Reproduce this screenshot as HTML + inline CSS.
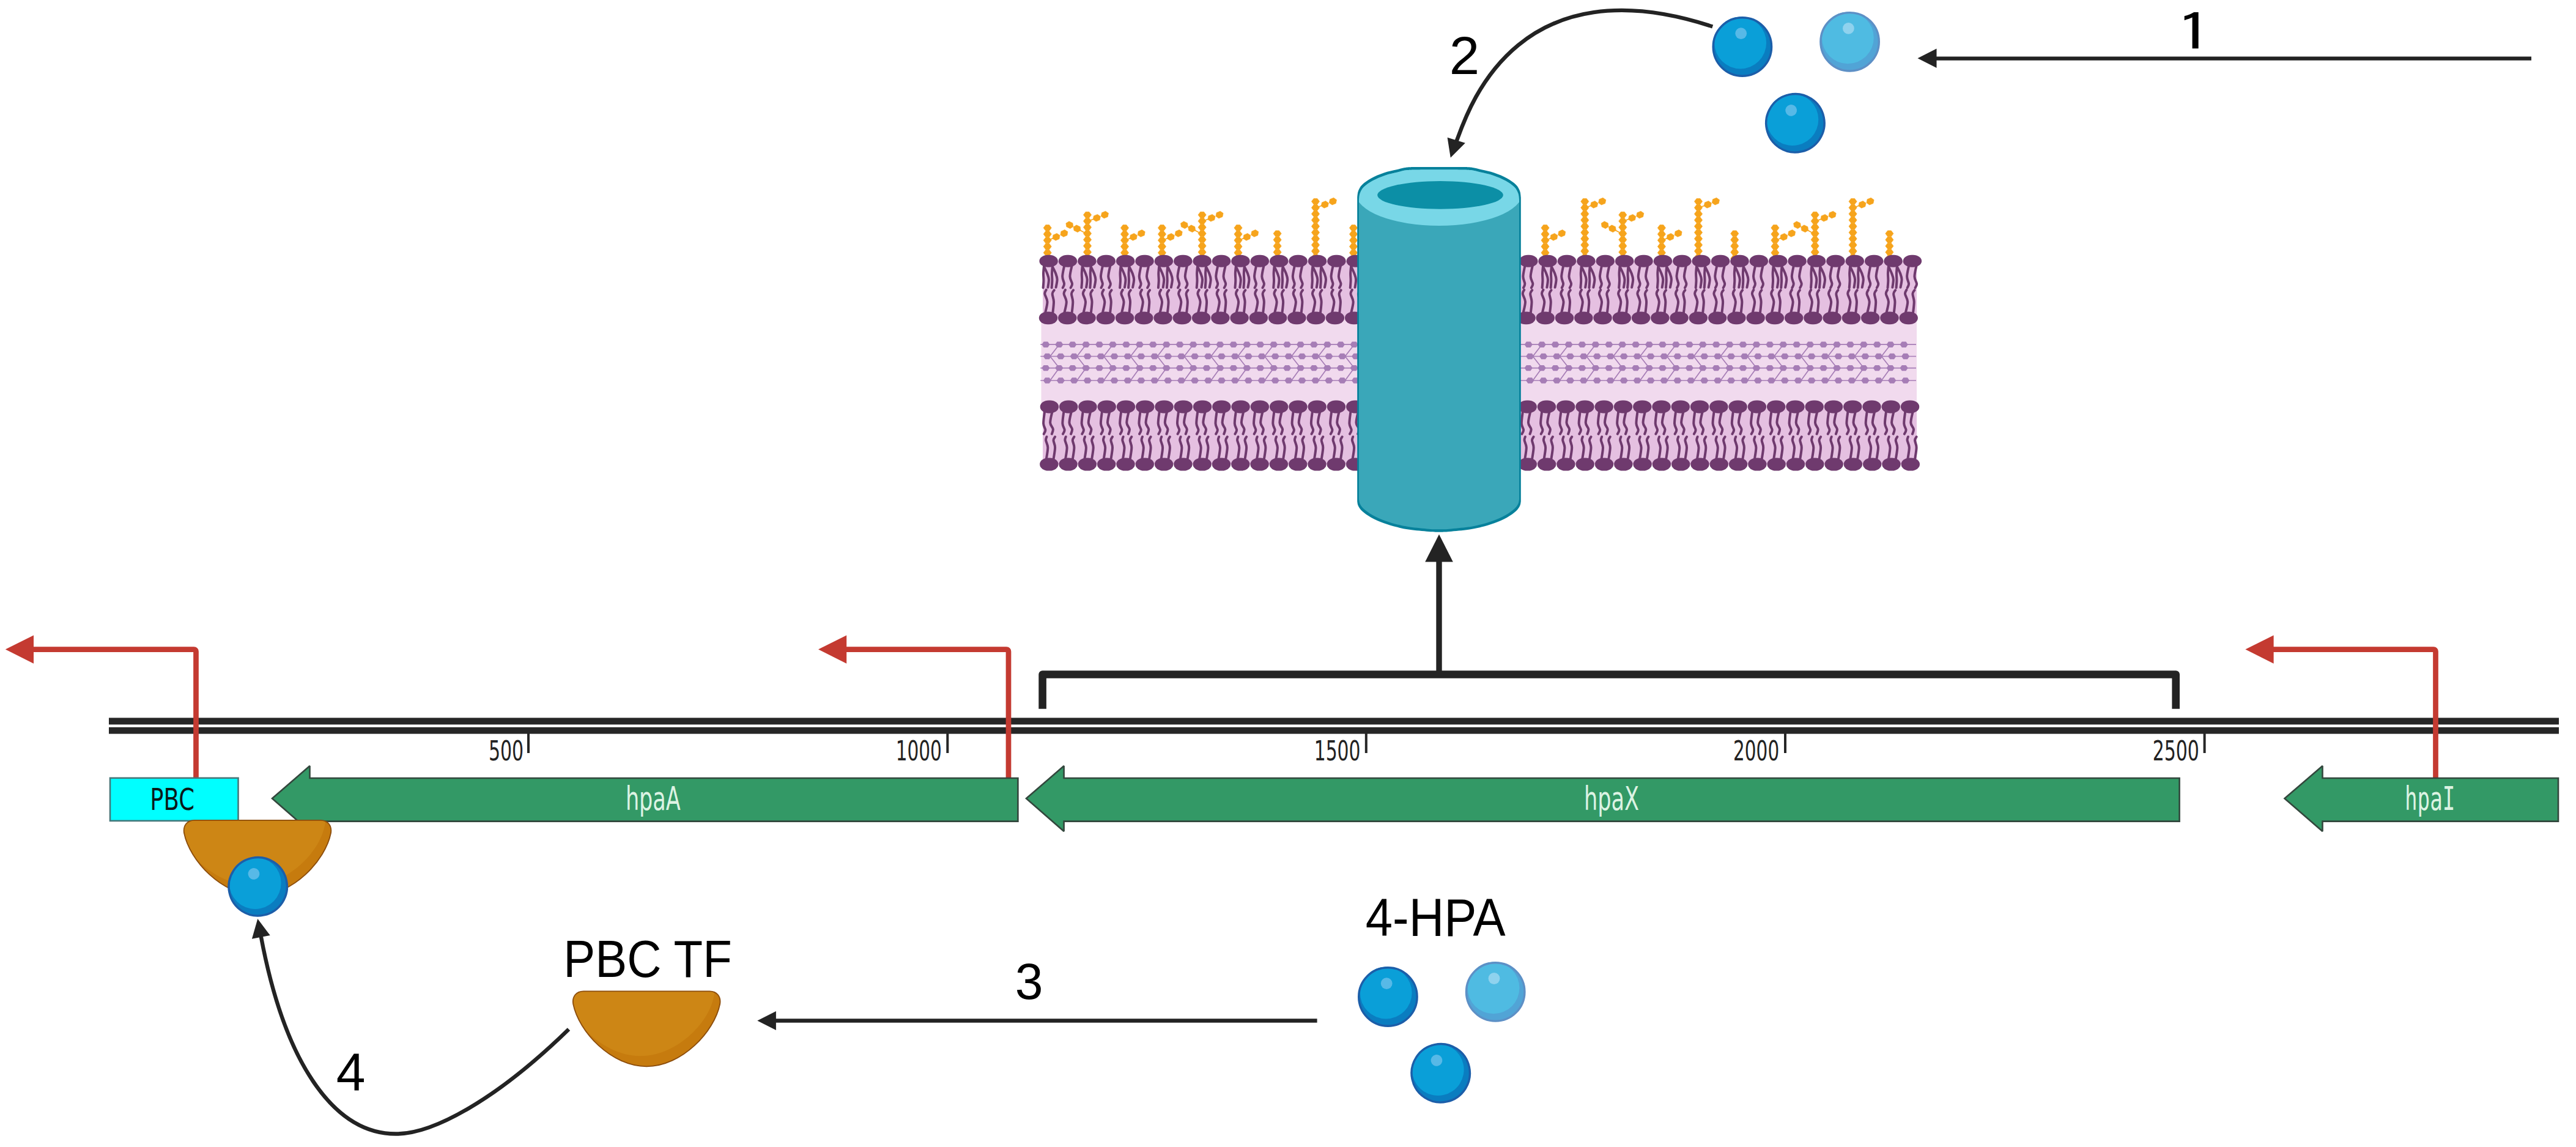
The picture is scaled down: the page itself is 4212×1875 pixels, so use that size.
<!DOCTYPE html>
<html lang="en"><head><meta charset="utf-8"><title>hpa operon regulation by 4-HPA</title>
<style>html,body{margin:0;padding:0;background:#fff}svg{display:block}text{font-family:"Liberation Sans",sans-serif}</style></head>
<body>
<svg width="4212" height="1875" viewBox="0 0 4212 1875">
<rect width="4212" height="1875" fill="#fff"/>
<g id="membrane">
<rect x="1705.0" y="426.8" width="1429.0" height="92.99999999999994" fill="#e5c0e1"/>
<rect x="1702.5" y="519.8" width="1431.5" height="149.10000000000002" fill="#f1daee"/>
<rect x="1705.0" y="668.9" width="1429.0" height="90.10000000000002" fill="#e5c0e1"/>
<path d="M1701.3,563.2H3133M1701.3,582.5H3133M1701.3,601.6H3133M1701.3,622.0H3133M1731.9,563.2L1717,582.5L1731.9,601.6L1717,622.0M1775.75,563.2L1760.85,582.5L1775.75,601.6L1760.85,622.0M1819.6,563.2L1804.7,582.5L1819.6,601.6L1804.7,622.0M1863.45,563.2L1848.55,582.5L1863.45,601.6L1848.55,622.0M1907.3,563.2L1892.4,582.5L1907.3,601.6L1892.4,622.0M1951.15,563.2L1936.25,582.5L1951.15,601.6L1936.25,622.0M1995,563.2L1980.1,582.5L1995,601.6L1980.1,622.0M2038.85,563.2L2023.95,582.5L2038.85,601.6L2023.95,622.0M2082.7,563.2L2067.8,582.5L2082.7,601.6L2067.8,622.0M2126.55,563.2L2111.65,582.5L2126.55,601.6L2111.65,622.0M2170.4,563.2L2155.5,582.5L2170.4,601.6L2155.5,622.0M2214.25,563.2L2199.35,582.5L2214.25,601.6L2199.35,622.0M2258.1,563.2L2243.2,582.5L2258.1,601.6L2243.2,622.0M2301.95,563.2L2287.05,582.5L2301.95,601.6L2287.05,622.0M2345.8,563.2L2330.9,582.5L2345.8,601.6L2330.9,622.0M2389.65,563.2L2374.75,582.5L2389.65,601.6L2374.75,622.0M2433.5,563.2L2418.6,582.5L2433.5,601.6L2418.6,622.0M2477.35,563.2L2462.45,582.5L2477.35,601.6L2462.45,622.0M2521.2,563.2L2506.3,582.5L2521.2,601.6L2506.3,622.0M2565.05,563.2L2550.15,582.5L2565.05,601.6L2550.15,622.0M2608.9,563.2L2594,582.5L2608.9,601.6L2594,622.0M2652.75,563.2L2637.85,582.5L2652.75,601.6L2637.85,622.0M2696.6,563.2L2681.7,582.5L2696.6,601.6L2681.7,622.0M2740.45,563.2L2725.55,582.5L2740.45,601.6L2725.55,622.0M2784.3,563.2L2769.4,582.5L2784.3,601.6L2769.4,622.0M2828.15,563.2L2813.25,582.5L2828.15,601.6L2813.25,622.0M2872,563.2L2857.1,582.5L2872,601.6L2857.1,622.0M2915.85,563.2L2900.95,582.5L2915.85,601.6L2900.95,622.0M2959.7,563.2L2944.8,582.5L2959.7,601.6L2944.8,622.0M3003.55,563.2L2988.65,582.5L3003.55,601.6L2988.65,622.0M3047.4,563.2L3032.5,582.5L3047.4,601.6L3032.5,622.0M3091.25,563.2L3076.35,582.5L3091.25,601.6L3076.35,622.0" fill="none" stroke="#a67db6" stroke-width="1.7"/>
<path d="M1703.25,563.2L1706.58,558.5L1713.23,558.5L1716.55,563.2L1713.23,567.9L1706.58,567.9ZM1725.17,563.2L1728.5,558.5L1735.15,558.5L1738.48,563.2L1735.15,567.9L1728.5,567.9ZM1747.1,563.2L1750.42,558.5L1757.08,558.5L1760.4,563.2L1757.08,567.9L1750.42,567.9ZM1769.02,563.2L1772.35,558.5L1779,558.5L1782.33,563.2L1779,567.9L1772.35,567.9ZM1790.95,563.2L1794.27,558.5L1800.92,558.5L1804.25,563.2L1800.92,567.9L1794.27,567.9ZM1812.87,563.2L1816.2,558.5L1822.85,558.5L1826.17,563.2L1822.85,567.9L1816.2,567.9ZM1834.8,563.2L1838.12,558.5L1844.77,558.5L1848.1,563.2L1844.77,567.9L1838.12,567.9ZM1856.72,563.2L1860.05,558.5L1866.7,558.5L1870.02,563.2L1866.7,567.9L1860.05,567.9ZM1878.65,563.2L1881.97,558.5L1888.62,558.5L1891.95,563.2L1888.62,567.9L1881.97,567.9ZM1900.57,563.2L1903.9,558.5L1910.55,558.5L1913.87,563.2L1910.55,567.9L1903.9,567.9ZM1922.5,563.2L1925.82,558.5L1932.47,558.5L1935.8,563.2L1932.47,567.9L1925.82,567.9ZM1944.42,563.2L1947.75,558.5L1954.4,558.5L1957.72,563.2L1954.4,567.9L1947.75,567.9ZM1966.35,563.2L1969.67,558.5L1976.32,558.5L1979.65,563.2L1976.32,567.9L1969.67,567.9ZM1988.27,563.2L1991.6,558.5L1998.25,558.5L2001.57,563.2L1998.25,567.9L1991.6,567.9ZM2010.2,563.2L2013.52,558.5L2020.17,558.5L2023.5,563.2L2020.17,567.9L2013.52,567.9ZM2032.12,563.2L2035.45,558.5L2042.1,558.5L2045.42,563.2L2042.1,567.9L2035.45,567.9ZM2054.05,563.2L2057.37,558.5L2064.02,558.5L2067.35,563.2L2064.02,567.9L2057.37,567.9ZM2075.97,563.2L2079.3,558.5L2085.95,558.5L2089.27,563.2L2085.95,567.9L2079.3,567.9ZM2097.9,563.2L2101.22,558.5L2107.87,558.5L2111.2,563.2L2107.87,567.9L2101.22,567.9ZM2119.82,563.2L2123.15,558.5L2129.8,558.5L2133.12,563.2L2129.8,567.9L2123.15,567.9ZM2141.75,563.2L2145.08,558.5L2151.72,558.5L2155.05,563.2L2151.72,567.9L2145.08,567.9ZM2163.68,563.2L2167,558.5L2173.65,558.5L2176.98,563.2L2173.65,567.9L2167,567.9ZM2185.6,563.2L2188.93,558.5L2195.58,558.5L2198.9,563.2L2195.58,567.9L2188.93,567.9ZM2207.53,563.2L2210.85,558.5L2217.5,558.5L2220.83,563.2L2217.5,567.9L2210.85,567.9ZM2229.45,563.2L2232.78,558.5L2239.43,558.5L2242.75,563.2L2239.43,567.9L2232.78,567.9ZM2251.38,563.2L2254.7,558.5L2261.35,558.5L2264.68,563.2L2261.35,567.9L2254.7,567.9ZM2273.3,563.2L2276.63,558.5L2283.28,558.5L2286.6,563.2L2283.28,567.9L2276.63,567.9ZM2295.23,563.2L2298.55,558.5L2305.2,558.5L2308.53,563.2L2305.2,567.9L2298.55,567.9ZM2317.15,563.2L2320.48,558.5L2327.13,558.5L2330.45,563.2L2327.13,567.9L2320.48,567.9ZM2339.08,563.2L2342.4,558.5L2349.05,558.5L2352.38,563.2L2349.05,567.9L2342.4,567.9ZM2361,563.2L2364.33,558.5L2370.98,558.5L2374.3,563.2L2370.98,567.9L2364.33,567.9ZM2382.93,563.2L2386.25,558.5L2392.9,558.5L2396.23,563.2L2392.9,567.9L2386.25,567.9ZM2404.85,563.2L2408.18,558.5L2414.83,558.5L2418.15,563.2L2414.83,567.9L2408.18,567.9ZM2426.78,563.2L2430.1,558.5L2436.75,558.5L2440.08,563.2L2436.75,567.9L2430.1,567.9ZM2448.7,563.2L2452.03,558.5L2458.68,558.5L2462,563.2L2458.68,567.9L2452.03,567.9ZM2470.63,563.2L2473.95,558.5L2480.6,558.5L2483.93,563.2L2480.6,567.9L2473.95,567.9ZM2492.55,563.2L2495.88,558.5L2502.53,558.5L2505.85,563.2L2502.53,567.9L2495.88,567.9ZM2514.48,563.2L2517.8,558.5L2524.45,558.5L2527.78,563.2L2524.45,567.9L2517.8,567.9ZM2536.4,563.2L2539.73,558.5L2546.38,558.5L2549.7,563.2L2546.38,567.9L2539.73,567.9ZM2558.33,563.2L2561.65,558.5L2568.3,558.5L2571.63,563.2L2568.3,567.9L2561.65,567.9ZM2580.25,563.2L2583.58,558.5L2590.23,558.5L2593.55,563.2L2590.23,567.9L2583.58,567.9ZM2602.18,563.2L2605.5,558.5L2612.15,558.5L2615.48,563.2L2612.15,567.9L2605.5,567.9ZM2624.1,563.2L2627.43,558.5L2634.08,558.5L2637.4,563.2L2634.08,567.9L2627.43,567.9ZM2646.03,563.2L2649.35,558.5L2656,558.5L2659.33,563.2L2656,567.9L2649.35,567.9ZM2667.95,563.2L2671.28,558.5L2677.93,558.5L2681.25,563.2L2677.93,567.9L2671.28,567.9ZM2689.88,563.2L2693.2,558.5L2699.85,558.5L2703.18,563.2L2699.85,567.9L2693.2,567.9ZM2711.8,563.2L2715.13,558.5L2721.78,558.5L2725.1,563.2L2721.78,567.9L2715.13,567.9ZM2733.73,563.2L2737.05,558.5L2743.7,558.5L2747.03,563.2L2743.7,567.9L2737.05,567.9ZM2755.65,563.2L2758.98,558.5L2765.63,558.5L2768.95,563.2L2765.63,567.9L2758.98,567.9ZM2777.58,563.2L2780.9,558.5L2787.55,558.5L2790.88,563.2L2787.55,567.9L2780.9,567.9ZM2799.5,563.2L2802.83,558.5L2809.48,558.5L2812.8,563.2L2809.48,567.9L2802.83,567.9ZM2821.43,563.2L2824.75,558.5L2831.4,558.5L2834.73,563.2L2831.4,567.9L2824.75,567.9ZM2843.35,563.2L2846.68,558.5L2853.33,558.5L2856.65,563.2L2853.33,567.9L2846.68,567.9ZM2865.28,563.2L2868.6,558.5L2875.25,558.5L2878.58,563.2L2875.25,567.9L2868.6,567.9ZM2887.2,563.2L2890.53,558.5L2897.18,558.5L2900.5,563.2L2897.18,567.9L2890.53,567.9ZM2909.13,563.2L2912.45,558.5L2919.1,558.5L2922.43,563.2L2919.1,567.9L2912.45,567.9ZM2931.05,563.2L2934.38,558.5L2941.03,558.5L2944.35,563.2L2941.03,567.9L2934.38,567.9ZM2952.98,563.2L2956.3,558.5L2962.95,558.5L2966.28,563.2L2962.95,567.9L2956.3,567.9ZM2974.9,563.2L2978.23,558.5L2984.88,558.5L2988.2,563.2L2984.88,567.9L2978.23,567.9ZM2996.83,563.2L3000.15,558.5L3006.8,558.5L3010.13,563.2L3006.8,567.9L3000.15,567.9ZM3018.75,563.2L3022.08,558.5L3028.73,558.5L3032.05,563.2L3028.73,567.9L3022.08,567.9ZM3040.68,563.2L3044,558.5L3050.65,558.5L3053.98,563.2L3050.65,567.9L3044,567.9ZM3062.6,563.2L3065.93,558.5L3072.58,558.5L3075.9,563.2L3072.58,567.9L3065.93,567.9ZM3084.53,563.2L3087.85,558.5L3094.5,558.5L3097.83,563.2L3094.5,567.9L3087.85,567.9ZM3106.45,563.2L3109.78,558.5L3116.43,558.5L3119.75,563.2L3116.43,567.9L3109.78,567.9ZM1705.75,582.5L1709.08,577.8L1715.73,577.8L1719.05,582.5L1715.73,587.2L1709.08,587.2ZM1727.67,582.5L1731,577.8L1737.65,577.8L1740.98,582.5L1737.65,587.2L1731,587.2ZM1749.6,582.5L1752.92,577.8L1759.58,577.8L1762.9,582.5L1759.58,587.2L1752.92,587.2ZM1771.52,582.5L1774.85,577.8L1781.5,577.8L1784.83,582.5L1781.5,587.2L1774.85,587.2ZM1793.45,582.5L1796.77,577.8L1803.42,577.8L1806.75,582.5L1803.42,587.2L1796.77,587.2ZM1815.37,582.5L1818.7,577.8L1825.35,577.8L1828.67,582.5L1825.35,587.2L1818.7,587.2ZM1837.3,582.5L1840.62,577.8L1847.27,577.8L1850.6,582.5L1847.27,587.2L1840.62,587.2ZM1859.22,582.5L1862.55,577.8L1869.2,577.8L1872.52,582.5L1869.2,587.2L1862.55,587.2ZM1881.15,582.5L1884.47,577.8L1891.12,577.8L1894.45,582.5L1891.12,587.2L1884.47,587.2ZM1903.07,582.5L1906.4,577.8L1913.05,577.8L1916.37,582.5L1913.05,587.2L1906.4,587.2ZM1925,582.5L1928.32,577.8L1934.97,577.8L1938.3,582.5L1934.97,587.2L1928.32,587.2ZM1946.92,582.5L1950.25,577.8L1956.9,577.8L1960.22,582.5L1956.9,587.2L1950.25,587.2ZM1968.85,582.5L1972.17,577.8L1978.82,577.8L1982.15,582.5L1978.82,587.2L1972.17,587.2ZM1990.77,582.5L1994.1,577.8L2000.75,577.8L2004.07,582.5L2000.75,587.2L1994.1,587.2ZM2012.7,582.5L2016.02,577.8L2022.67,577.8L2026,582.5L2022.67,587.2L2016.02,587.2ZM2034.62,582.5L2037.95,577.8L2044.6,577.8L2047.92,582.5L2044.6,587.2L2037.95,587.2ZM2056.55,582.5L2059.87,577.8L2066.52,577.8L2069.85,582.5L2066.52,587.2L2059.87,587.2ZM2078.47,582.5L2081.8,577.8L2088.45,577.8L2091.77,582.5L2088.45,587.2L2081.8,587.2ZM2100.4,582.5L2103.72,577.8L2110.37,577.8L2113.7,582.5L2110.37,587.2L2103.72,587.2ZM2122.32,582.5L2125.65,577.8L2132.3,577.8L2135.62,582.5L2132.3,587.2L2125.65,587.2ZM2144.25,582.5L2147.58,577.8L2154.22,577.8L2157.55,582.5L2154.22,587.2L2147.58,587.2ZM2166.18,582.5L2169.5,577.8L2176.15,577.8L2179.48,582.5L2176.15,587.2L2169.5,587.2ZM2188.1,582.5L2191.43,577.8L2198.08,577.8L2201.4,582.5L2198.08,587.2L2191.43,587.2ZM2210.03,582.5L2213.35,577.8L2220,577.8L2223.33,582.5L2220,587.2L2213.35,587.2ZM2231.95,582.5L2235.28,577.8L2241.93,577.8L2245.25,582.5L2241.93,587.2L2235.28,587.2ZM2253.88,582.5L2257.2,577.8L2263.85,577.8L2267.18,582.5L2263.85,587.2L2257.2,587.2ZM2275.8,582.5L2279.13,577.8L2285.78,577.8L2289.1,582.5L2285.78,587.2L2279.13,587.2ZM2297.73,582.5L2301.05,577.8L2307.7,577.8L2311.03,582.5L2307.7,587.2L2301.05,587.2ZM2319.65,582.5L2322.98,577.8L2329.63,577.8L2332.95,582.5L2329.63,587.2L2322.98,587.2ZM2341.58,582.5L2344.9,577.8L2351.55,577.8L2354.88,582.5L2351.55,587.2L2344.9,587.2ZM2363.5,582.5L2366.83,577.8L2373.48,577.8L2376.8,582.5L2373.48,587.2L2366.83,587.2ZM2385.43,582.5L2388.75,577.8L2395.4,577.8L2398.73,582.5L2395.4,587.2L2388.75,587.2ZM2407.35,582.5L2410.68,577.8L2417.33,577.8L2420.65,582.5L2417.33,587.2L2410.68,587.2ZM2429.28,582.5L2432.6,577.8L2439.25,577.8L2442.58,582.5L2439.25,587.2L2432.6,587.2ZM2451.2,582.5L2454.53,577.8L2461.18,577.8L2464.5,582.5L2461.18,587.2L2454.53,587.2ZM2473.13,582.5L2476.45,577.8L2483.1,577.8L2486.43,582.5L2483.1,587.2L2476.45,587.2ZM2495.05,582.5L2498.38,577.8L2505.03,577.8L2508.35,582.5L2505.03,587.2L2498.38,587.2ZM2516.98,582.5L2520.3,577.8L2526.95,577.8L2530.28,582.5L2526.95,587.2L2520.3,587.2ZM2538.9,582.5L2542.23,577.8L2548.88,577.8L2552.2,582.5L2548.88,587.2L2542.23,587.2ZM2560.83,582.5L2564.15,577.8L2570.8,577.8L2574.13,582.5L2570.8,587.2L2564.15,587.2ZM2582.75,582.5L2586.08,577.8L2592.73,577.8L2596.05,582.5L2592.73,587.2L2586.08,587.2ZM2604.68,582.5L2608,577.8L2614.65,577.8L2617.98,582.5L2614.65,587.2L2608,587.2ZM2626.6,582.5L2629.93,577.8L2636.58,577.8L2639.9,582.5L2636.58,587.2L2629.93,587.2ZM2648.53,582.5L2651.85,577.8L2658.5,577.8L2661.83,582.5L2658.5,587.2L2651.85,587.2ZM2670.45,582.5L2673.78,577.8L2680.43,577.8L2683.75,582.5L2680.43,587.2L2673.78,587.2ZM2692.38,582.5L2695.7,577.8L2702.35,577.8L2705.68,582.5L2702.35,587.2L2695.7,587.2ZM2714.3,582.5L2717.63,577.8L2724.28,577.8L2727.6,582.5L2724.28,587.2L2717.63,587.2ZM2736.23,582.5L2739.55,577.8L2746.2,577.8L2749.53,582.5L2746.2,587.2L2739.55,587.2ZM2758.15,582.5L2761.48,577.8L2768.13,577.8L2771.45,582.5L2768.13,587.2L2761.48,587.2ZM2780.08,582.5L2783.4,577.8L2790.05,577.8L2793.38,582.5L2790.05,587.2L2783.4,587.2ZM2802,582.5L2805.33,577.8L2811.98,577.8L2815.3,582.5L2811.98,587.2L2805.33,587.2ZM2823.93,582.5L2827.25,577.8L2833.9,577.8L2837.23,582.5L2833.9,587.2L2827.25,587.2ZM2845.85,582.5L2849.18,577.8L2855.83,577.8L2859.15,582.5L2855.83,587.2L2849.18,587.2ZM2867.78,582.5L2871.1,577.8L2877.75,577.8L2881.08,582.5L2877.75,587.2L2871.1,587.2ZM2889.7,582.5L2893.03,577.8L2899.68,577.8L2903,582.5L2899.68,587.2L2893.03,587.2ZM2911.63,582.5L2914.95,577.8L2921.6,577.8L2924.93,582.5L2921.6,587.2L2914.95,587.2ZM2933.55,582.5L2936.88,577.8L2943.53,577.8L2946.85,582.5L2943.53,587.2L2936.88,587.2ZM2955.48,582.5L2958.8,577.8L2965.45,577.8L2968.78,582.5L2965.45,587.2L2958.8,587.2ZM2977.4,582.5L2980.73,577.8L2987.38,577.8L2990.7,582.5L2987.38,587.2L2980.73,587.2ZM2999.33,582.5L3002.65,577.8L3009.3,577.8L3012.63,582.5L3009.3,587.2L3002.65,587.2ZM3021.25,582.5L3024.58,577.8L3031.23,577.8L3034.55,582.5L3031.23,587.2L3024.58,587.2ZM3043.18,582.5L3046.5,577.8L3053.15,577.8L3056.48,582.5L3053.15,587.2L3046.5,587.2ZM3065.1,582.5L3068.43,577.8L3075.08,577.8L3078.4,582.5L3075.08,587.2L3068.43,587.2ZM3087.03,582.5L3090.35,577.8L3097,577.8L3100.33,582.5L3097,587.2L3090.35,587.2ZM3108.95,582.5L3112.28,577.8L3118.93,577.8L3122.25,582.5L3118.93,587.2L3112.28,587.2ZM1703.25,601.6L1706.58,596.9L1713.23,596.9L1716.55,601.6L1713.23,606.3L1706.58,606.3ZM1725.17,601.6L1728.5,596.9L1735.15,596.9L1738.48,601.6L1735.15,606.3L1728.5,606.3ZM1747.1,601.6L1750.42,596.9L1757.08,596.9L1760.4,601.6L1757.08,606.3L1750.42,606.3ZM1769.02,601.6L1772.35,596.9L1779,596.9L1782.33,601.6L1779,606.3L1772.35,606.3ZM1790.95,601.6L1794.27,596.9L1800.92,596.9L1804.25,601.6L1800.92,606.3L1794.27,606.3ZM1812.87,601.6L1816.2,596.9L1822.85,596.9L1826.17,601.6L1822.85,606.3L1816.2,606.3ZM1834.8,601.6L1838.12,596.9L1844.77,596.9L1848.1,601.6L1844.77,606.3L1838.12,606.3ZM1856.72,601.6L1860.05,596.9L1866.7,596.9L1870.02,601.6L1866.7,606.3L1860.05,606.3ZM1878.65,601.6L1881.97,596.9L1888.62,596.9L1891.95,601.6L1888.62,606.3L1881.97,606.3ZM1900.57,601.6L1903.9,596.9L1910.55,596.9L1913.87,601.6L1910.55,606.3L1903.9,606.3ZM1922.5,601.6L1925.82,596.9L1932.47,596.9L1935.8,601.6L1932.47,606.3L1925.82,606.3ZM1944.42,601.6L1947.75,596.9L1954.4,596.9L1957.72,601.6L1954.4,606.3L1947.75,606.3ZM1966.35,601.6L1969.67,596.9L1976.32,596.9L1979.65,601.6L1976.32,606.3L1969.67,606.3ZM1988.27,601.6L1991.6,596.9L1998.25,596.9L2001.57,601.6L1998.25,606.3L1991.6,606.3ZM2010.2,601.6L2013.52,596.9L2020.17,596.9L2023.5,601.6L2020.17,606.3L2013.52,606.3ZM2032.12,601.6L2035.45,596.9L2042.1,596.9L2045.42,601.6L2042.1,606.3L2035.45,606.3ZM2054.05,601.6L2057.37,596.9L2064.02,596.9L2067.35,601.6L2064.02,606.3L2057.37,606.3ZM2075.97,601.6L2079.3,596.9L2085.95,596.9L2089.27,601.6L2085.95,606.3L2079.3,606.3ZM2097.9,601.6L2101.22,596.9L2107.87,596.9L2111.2,601.6L2107.87,606.3L2101.22,606.3ZM2119.82,601.6L2123.15,596.9L2129.8,596.9L2133.12,601.6L2129.8,606.3L2123.15,606.3ZM2141.75,601.6L2145.08,596.9L2151.72,596.9L2155.05,601.6L2151.72,606.3L2145.08,606.3ZM2163.68,601.6L2167,596.9L2173.65,596.9L2176.98,601.6L2173.65,606.3L2167,606.3ZM2185.6,601.6L2188.93,596.9L2195.58,596.9L2198.9,601.6L2195.58,606.3L2188.93,606.3ZM2207.53,601.6L2210.85,596.9L2217.5,596.9L2220.83,601.6L2217.5,606.3L2210.85,606.3ZM2229.45,601.6L2232.78,596.9L2239.43,596.9L2242.75,601.6L2239.43,606.3L2232.78,606.3ZM2251.38,601.6L2254.7,596.9L2261.35,596.9L2264.68,601.6L2261.35,606.3L2254.7,606.3ZM2273.3,601.6L2276.63,596.9L2283.28,596.9L2286.6,601.6L2283.28,606.3L2276.63,606.3ZM2295.23,601.6L2298.55,596.9L2305.2,596.9L2308.53,601.6L2305.2,606.3L2298.55,606.3ZM2317.15,601.6L2320.48,596.9L2327.13,596.9L2330.45,601.6L2327.13,606.3L2320.48,606.3ZM2339.08,601.6L2342.4,596.9L2349.05,596.9L2352.38,601.6L2349.05,606.3L2342.4,606.3ZM2361,601.6L2364.33,596.9L2370.98,596.9L2374.3,601.6L2370.98,606.3L2364.33,606.3ZM2382.93,601.6L2386.25,596.9L2392.9,596.9L2396.23,601.6L2392.9,606.3L2386.25,606.3ZM2404.85,601.6L2408.18,596.9L2414.83,596.9L2418.15,601.6L2414.83,606.3L2408.18,606.3ZM2426.78,601.6L2430.1,596.9L2436.75,596.9L2440.08,601.6L2436.75,606.3L2430.1,606.3ZM2448.7,601.6L2452.03,596.9L2458.68,596.9L2462,601.6L2458.68,606.3L2452.03,606.3ZM2470.63,601.6L2473.95,596.9L2480.6,596.9L2483.93,601.6L2480.6,606.3L2473.95,606.3ZM2492.55,601.6L2495.88,596.9L2502.53,596.9L2505.85,601.6L2502.53,606.3L2495.88,606.3ZM2514.48,601.6L2517.8,596.9L2524.45,596.9L2527.78,601.6L2524.45,606.3L2517.8,606.3ZM2536.4,601.6L2539.73,596.9L2546.38,596.9L2549.7,601.6L2546.38,606.3L2539.73,606.3ZM2558.33,601.6L2561.65,596.9L2568.3,596.9L2571.63,601.6L2568.3,606.3L2561.65,606.3ZM2580.25,601.6L2583.58,596.9L2590.23,596.9L2593.55,601.6L2590.23,606.3L2583.58,606.3ZM2602.18,601.6L2605.5,596.9L2612.15,596.9L2615.48,601.6L2612.15,606.3L2605.5,606.3ZM2624.1,601.6L2627.43,596.9L2634.08,596.9L2637.4,601.6L2634.08,606.3L2627.43,606.3ZM2646.03,601.6L2649.35,596.9L2656,596.9L2659.33,601.6L2656,606.3L2649.35,606.3ZM2667.95,601.6L2671.28,596.9L2677.93,596.9L2681.25,601.6L2677.93,606.3L2671.28,606.3ZM2689.88,601.6L2693.2,596.9L2699.85,596.9L2703.18,601.6L2699.85,606.3L2693.2,606.3ZM2711.8,601.6L2715.13,596.9L2721.78,596.9L2725.1,601.6L2721.78,606.3L2715.13,606.3ZM2733.73,601.6L2737.05,596.9L2743.7,596.9L2747.03,601.6L2743.7,606.3L2737.05,606.3ZM2755.65,601.6L2758.98,596.9L2765.63,596.9L2768.95,601.6L2765.63,606.3L2758.98,606.3ZM2777.58,601.6L2780.9,596.9L2787.55,596.9L2790.88,601.6L2787.55,606.3L2780.9,606.3ZM2799.5,601.6L2802.83,596.9L2809.48,596.9L2812.8,601.6L2809.48,606.3L2802.83,606.3ZM2821.43,601.6L2824.75,596.9L2831.4,596.9L2834.73,601.6L2831.4,606.3L2824.75,606.3ZM2843.35,601.6L2846.68,596.9L2853.33,596.9L2856.65,601.6L2853.33,606.3L2846.68,606.3ZM2865.28,601.6L2868.6,596.9L2875.25,596.9L2878.58,601.6L2875.25,606.3L2868.6,606.3ZM2887.2,601.6L2890.53,596.9L2897.18,596.9L2900.5,601.6L2897.18,606.3L2890.53,606.3ZM2909.13,601.6L2912.45,596.9L2919.1,596.9L2922.43,601.6L2919.1,606.3L2912.45,606.3ZM2931.05,601.6L2934.38,596.9L2941.03,596.9L2944.35,601.6L2941.03,606.3L2934.38,606.3ZM2952.98,601.6L2956.3,596.9L2962.95,596.9L2966.28,601.6L2962.95,606.3L2956.3,606.3ZM2974.9,601.6L2978.23,596.9L2984.88,596.9L2988.2,601.6L2984.88,606.3L2978.23,606.3ZM2996.83,601.6L3000.15,596.9L3006.8,596.9L3010.13,601.6L3006.8,606.3L3000.15,606.3ZM3018.75,601.6L3022.08,596.9L3028.73,596.9L3032.05,601.6L3028.73,606.3L3022.08,606.3ZM3040.68,601.6L3044,596.9L3050.65,596.9L3053.98,601.6L3050.65,606.3L3044,606.3ZM3062.6,601.6L3065.93,596.9L3072.58,596.9L3075.9,601.6L3072.58,606.3L3065.93,606.3ZM3084.53,601.6L3087.85,596.9L3094.5,596.9L3097.83,601.6L3094.5,606.3L3087.85,606.3ZM3106.45,601.6L3109.78,596.9L3116.43,596.9L3119.75,601.6L3116.43,606.3L3109.78,606.3ZM1705.75,622L1709.08,617.3L1715.73,617.3L1719.05,622L1715.73,626.7L1709.08,626.7ZM1727.67,622L1731,617.3L1737.65,617.3L1740.98,622L1737.65,626.7L1731,626.7ZM1749.6,622L1752.92,617.3L1759.58,617.3L1762.9,622L1759.58,626.7L1752.92,626.7ZM1771.52,622L1774.85,617.3L1781.5,617.3L1784.83,622L1781.5,626.7L1774.85,626.7ZM1793.45,622L1796.77,617.3L1803.42,617.3L1806.75,622L1803.42,626.7L1796.77,626.7ZM1815.37,622L1818.7,617.3L1825.35,617.3L1828.67,622L1825.35,626.7L1818.7,626.7ZM1837.3,622L1840.62,617.3L1847.27,617.3L1850.6,622L1847.27,626.7L1840.62,626.7ZM1859.22,622L1862.55,617.3L1869.2,617.3L1872.52,622L1869.2,626.7L1862.55,626.7ZM1881.15,622L1884.47,617.3L1891.12,617.3L1894.45,622L1891.12,626.7L1884.47,626.7ZM1903.07,622L1906.4,617.3L1913.05,617.3L1916.37,622L1913.05,626.7L1906.4,626.7ZM1925,622L1928.32,617.3L1934.97,617.3L1938.3,622L1934.97,626.7L1928.32,626.7ZM1946.92,622L1950.25,617.3L1956.9,617.3L1960.22,622L1956.9,626.7L1950.25,626.7ZM1968.85,622L1972.17,617.3L1978.82,617.3L1982.15,622L1978.82,626.7L1972.17,626.7ZM1990.77,622L1994.1,617.3L2000.75,617.3L2004.07,622L2000.75,626.7L1994.1,626.7ZM2012.7,622L2016.02,617.3L2022.67,617.3L2026,622L2022.67,626.7L2016.02,626.7ZM2034.62,622L2037.95,617.3L2044.6,617.3L2047.92,622L2044.6,626.7L2037.95,626.7ZM2056.55,622L2059.87,617.3L2066.52,617.3L2069.85,622L2066.52,626.7L2059.87,626.7ZM2078.47,622L2081.8,617.3L2088.45,617.3L2091.77,622L2088.45,626.7L2081.8,626.7ZM2100.4,622L2103.72,617.3L2110.37,617.3L2113.7,622L2110.37,626.7L2103.72,626.7ZM2122.32,622L2125.65,617.3L2132.3,617.3L2135.62,622L2132.3,626.7L2125.65,626.7ZM2144.25,622L2147.58,617.3L2154.22,617.3L2157.55,622L2154.22,626.7L2147.58,626.7ZM2166.18,622L2169.5,617.3L2176.15,617.3L2179.48,622L2176.15,626.7L2169.5,626.7ZM2188.1,622L2191.43,617.3L2198.08,617.3L2201.4,622L2198.08,626.7L2191.43,626.7ZM2210.03,622L2213.35,617.3L2220,617.3L2223.33,622L2220,626.7L2213.35,626.7ZM2231.95,622L2235.28,617.3L2241.93,617.3L2245.25,622L2241.93,626.7L2235.28,626.7ZM2253.88,622L2257.2,617.3L2263.85,617.3L2267.18,622L2263.85,626.7L2257.2,626.7ZM2275.8,622L2279.13,617.3L2285.78,617.3L2289.1,622L2285.78,626.7L2279.13,626.7ZM2297.73,622L2301.05,617.3L2307.7,617.3L2311.03,622L2307.7,626.7L2301.05,626.7ZM2319.65,622L2322.98,617.3L2329.63,617.3L2332.95,622L2329.63,626.7L2322.98,626.7ZM2341.58,622L2344.9,617.3L2351.55,617.3L2354.88,622L2351.55,626.7L2344.9,626.7ZM2363.5,622L2366.83,617.3L2373.48,617.3L2376.8,622L2373.48,626.7L2366.83,626.7ZM2385.43,622L2388.75,617.3L2395.4,617.3L2398.73,622L2395.4,626.7L2388.75,626.7ZM2407.35,622L2410.68,617.3L2417.33,617.3L2420.65,622L2417.33,626.7L2410.68,626.7ZM2429.28,622L2432.6,617.3L2439.25,617.3L2442.58,622L2439.25,626.7L2432.6,626.7ZM2451.2,622L2454.53,617.3L2461.18,617.3L2464.5,622L2461.18,626.7L2454.53,626.7ZM2473.13,622L2476.45,617.3L2483.1,617.3L2486.43,622L2483.1,626.7L2476.45,626.7ZM2495.05,622L2498.38,617.3L2505.03,617.3L2508.35,622L2505.03,626.7L2498.38,626.7ZM2516.98,622L2520.3,617.3L2526.95,617.3L2530.28,622L2526.95,626.7L2520.3,626.7ZM2538.9,622L2542.23,617.3L2548.88,617.3L2552.2,622L2548.88,626.7L2542.23,626.7ZM2560.83,622L2564.15,617.3L2570.8,617.3L2574.13,622L2570.8,626.7L2564.15,626.7ZM2582.75,622L2586.08,617.3L2592.73,617.3L2596.05,622L2592.73,626.7L2586.08,626.7ZM2604.68,622L2608,617.3L2614.65,617.3L2617.98,622L2614.65,626.7L2608,626.7ZM2626.6,622L2629.93,617.3L2636.58,617.3L2639.9,622L2636.58,626.7L2629.93,626.7ZM2648.53,622L2651.85,617.3L2658.5,617.3L2661.83,622L2658.5,626.7L2651.85,626.7ZM2670.45,622L2673.78,617.3L2680.43,617.3L2683.75,622L2680.43,626.7L2673.78,626.7ZM2692.38,622L2695.7,617.3L2702.35,617.3L2705.68,622L2702.35,626.7L2695.7,626.7ZM2714.3,622L2717.63,617.3L2724.28,617.3L2727.6,622L2724.28,626.7L2717.63,626.7ZM2736.23,622L2739.55,617.3L2746.2,617.3L2749.53,622L2746.2,626.7L2739.55,626.7ZM2758.15,622L2761.48,617.3L2768.13,617.3L2771.45,622L2768.13,626.7L2761.48,626.7ZM2780.08,622L2783.4,617.3L2790.05,617.3L2793.38,622L2790.05,626.7L2783.4,626.7ZM2802,622L2805.33,617.3L2811.98,617.3L2815.3,622L2811.98,626.7L2805.33,626.7ZM2823.93,622L2827.25,617.3L2833.9,617.3L2837.23,622L2833.9,626.7L2827.25,626.7ZM2845.85,622L2849.18,617.3L2855.83,617.3L2859.15,622L2855.83,626.7L2849.18,626.7ZM2867.78,622L2871.1,617.3L2877.75,617.3L2881.08,622L2877.75,626.7L2871.1,626.7ZM2889.7,622L2893.03,617.3L2899.68,617.3L2903,622L2899.68,626.7L2893.03,626.7ZM2911.63,622L2914.95,617.3L2921.6,617.3L2924.93,622L2921.6,626.7L2914.95,626.7ZM2933.55,622L2936.88,617.3L2943.53,617.3L2946.85,622L2943.53,626.7L2936.88,626.7ZM2955.48,622L2958.8,617.3L2965.45,617.3L2968.78,622L2965.45,626.7L2958.8,626.7ZM2977.4,622L2980.73,617.3L2987.38,617.3L2990.7,622L2987.38,626.7L2980.73,626.7ZM2999.33,622L3002.65,617.3L3009.3,617.3L3012.63,622L3009.3,626.7L3002.65,626.7ZM3021.25,622L3024.58,617.3L3031.23,617.3L3034.55,622L3031.23,626.7L3024.58,626.7ZM3043.18,622L3046.5,617.3L3053.15,617.3L3056.48,622L3053.15,626.7L3046.5,626.7ZM3065.1,622L3068.43,617.3L3075.08,617.3L3078.4,622L3075.08,626.7L3068.43,626.7ZM3087.03,622L3090.35,617.3L3097,617.3L3100.33,622L3097,626.7L3090.35,626.7ZM3108.95,622L3112.28,617.3L3118.93,617.3L3122.25,622L3118.93,626.7L3112.28,626.7Z" fill="#a67db6"/>
<path d="M1707,434.8C1706.83,436.8 1706.1,442.8 1706,446.8C1705.9,450.8 1706.47,454.88 1706.4,458.8C1706.33,462.72 1705.73,468.38 1705.6,470.3M1707.6,436.8C1708.35,438.47 1710.88,443.47 1712.1,446.8C1713.32,450.13 1714.68,452.97 1714.9,456.8C1715.12,460.63 1713.65,467.63 1713.4,469.8M1720.9,434.8C1720.75,436.8 1720.08,442.8 1720,446.8C1719.92,450.8 1720.47,454.88 1720.4,458.8C1720.33,462.72 1719.73,468.38 1719.6,470.3M1721.4,436.8C1722.18,438.47 1724.9,443.47 1726.1,446.8C1727.3,450.13 1728.52,452.97 1728.6,456.8C1728.68,460.63 1726.93,467.63 1726.6,469.8M1740.08,434.8C1739.6,437.68 1737.18,447.25 1737.18,452.1C1737.18,456.95 1739.98,460.85 1740.08,463.9C1740.18,466.95 1738.17,469.32 1737.78,470.4M1752.48,434.8C1751.98,437.68 1749.38,447.25 1749.48,452.1C1749.58,456.95 1752.88,460.85 1753.08,463.9C1753.28,466.95 1751.09,469.32 1750.68,470.4M1769.77,434.8C1769.6,436.8 1768.87,442.8 1768.77,446.8C1768.67,450.8 1769.24,454.88 1769.17,458.8C1769.1,462.72 1768.5,468.38 1768.37,470.3M1770.37,436.8C1771.12,438.47 1773.65,443.47 1774.87,446.8C1776.09,450.13 1777.45,452.97 1777.67,456.8C1777.89,460.63 1776.42,467.63 1776.17,469.8M1783.67,434.8C1783.52,436.8 1782.85,442.8 1782.77,446.8C1782.69,450.8 1783.24,454.88 1783.17,458.8C1783.1,462.72 1782.5,468.38 1782.37,470.3M1784.17,436.8C1784.95,438.47 1787.67,443.47 1788.87,446.8C1790.07,450.13 1791.29,452.97 1791.37,456.8C1791.45,460.63 1789.7,467.63 1789.37,469.8M1802.85,434.8C1802.37,437.68 1799.95,447.25 1799.95,452.1C1799.95,456.95 1802.75,460.85 1802.85,463.9C1802.95,466.95 1800.94,469.32 1800.55,470.4M1815.25,434.8C1814.75,437.68 1812.15,447.25 1812.25,452.1C1812.35,456.95 1815.65,460.85 1815.85,463.9C1816.05,466.95 1813.86,469.32 1813.45,470.4M1832.54,434.8C1832.37,436.8 1831.64,442.8 1831.54,446.8C1831.44,450.8 1832.01,454.88 1831.94,458.8C1831.87,462.72 1831.27,468.38 1831.14,470.3M1833.14,436.8C1833.89,438.47 1836.42,443.47 1837.64,446.8C1838.86,450.13 1840.22,452.97 1840.44,456.8C1840.66,460.63 1839.19,467.63 1838.94,469.8M1846.44,434.8C1846.29,436.8 1845.62,442.8 1845.54,446.8C1845.46,450.8 1846.01,454.88 1845.94,458.8C1845.87,462.72 1845.27,468.38 1845.14,470.3M1846.94,436.8C1847.72,438.47 1850.44,443.47 1851.64,446.8C1852.84,450.13 1854.06,452.97 1854.14,456.8C1854.22,460.63 1852.47,467.63 1852.14,469.8M1865.62,434.8C1865.14,437.68 1862.72,447.25 1862.72,452.1C1862.72,456.95 1865.52,460.85 1865.62,463.9C1865.72,466.95 1863.71,469.32 1863.32,470.4M1878.02,434.8C1877.52,437.68 1874.92,447.25 1875.02,452.1C1875.12,456.95 1878.42,460.85 1878.62,463.9C1878.82,466.95 1876.62,469.32 1876.22,470.4M1895.31,434.8C1895.14,436.8 1894.41,442.8 1894.31,446.8C1894.21,450.8 1894.78,454.88 1894.71,458.8C1894.64,462.72 1894.04,468.38 1893.91,470.3M1895.91,436.8C1896.66,438.47 1899.19,443.47 1900.41,446.8C1901.63,450.13 1902.99,452.97 1903.21,456.8C1903.43,460.63 1901.96,467.63 1901.71,469.8M1909.21,434.8C1909.06,436.8 1908.39,442.8 1908.31,446.8C1908.23,450.8 1908.78,454.88 1908.71,458.8C1908.64,462.72 1908.04,468.38 1907.91,470.3M1909.71,436.8C1910.49,438.47 1913.21,443.47 1914.41,446.8C1915.61,450.13 1916.83,452.97 1916.91,456.8C1916.99,460.63 1915.24,467.63 1914.91,469.8M1928.39,434.8C1927.91,437.68 1925.49,447.25 1925.49,452.1C1925.49,456.95 1928.29,460.85 1928.39,463.9C1928.49,466.95 1926.48,469.32 1926.09,470.4M1940.79,434.8C1940.29,437.68 1937.69,447.25 1937.79,452.1C1937.89,456.95 1941.19,460.85 1941.39,463.9C1941.59,466.95 1939.39,469.32 1938.99,470.4M1958.08,434.8C1957.91,436.8 1957.18,442.8 1957.08,446.8C1956.98,450.8 1957.55,454.88 1957.48,458.8C1957.41,462.72 1956.81,468.38 1956.68,470.3M1958.68,436.8C1959.43,438.47 1961.96,443.47 1963.18,446.8C1964.4,450.13 1965.76,452.97 1965.98,456.8C1966.2,460.63 1964.73,467.63 1964.48,469.8M1971.98,434.8C1971.83,436.8 1971.16,442.8 1971.08,446.8C1971,450.8 1971.55,454.88 1971.48,458.8C1971.41,462.72 1970.81,468.38 1970.68,470.3M1972.48,436.8C1973.26,438.47 1975.98,443.47 1977.18,446.8C1978.38,450.13 1979.6,452.97 1979.68,456.8C1979.76,460.63 1978.01,467.63 1977.68,469.8M1991.16,434.8C1990.68,437.68 1988.27,447.25 1988.27,452.1C1988.27,456.95 1991.07,460.85 1991.16,463.9C1991.26,466.95 1989.25,469.32 1988.87,470.4M2003.57,434.8C2003.07,437.68 2000.47,447.25 2000.57,452.1C2000.66,456.95 2003.96,460.85 2004.16,463.9C2004.37,466.95 2002.16,469.32 2001.77,470.4M2020.85,434.8C2020.68,436.8 2019.95,442.8 2019.85,446.8C2019.75,450.8 2020.32,454.88 2020.25,458.8C2020.18,462.72 2019.58,468.38 2019.45,470.3M2021.45,436.8C2022.2,438.47 2024.73,443.47 2025.95,446.8C2027.17,450.13 2028.53,452.97 2028.75,456.8C2028.97,460.63 2027.5,467.63 2027.25,469.8M2034.75,434.8C2034.6,436.8 2033.93,442.8 2033.85,446.8C2033.77,450.8 2034.32,454.88 2034.25,458.8C2034.18,462.72 2033.58,468.38 2033.45,470.3M2035.25,436.8C2036.03,438.47 2038.75,443.47 2039.95,446.8C2041.15,450.13 2042.37,452.97 2042.45,456.8C2042.53,460.63 2040.78,467.63 2040.45,469.8M2053.93,434.8C2053.45,437.68 2051.03,447.25 2051.03,452.1C2051.03,456.95 2053.84,460.85 2053.93,463.9C2054.03,466.95 2052.02,469.32 2051.64,470.4M2066.34,434.8C2065.84,437.68 2063.24,447.25 2063.34,452.1C2063.43,456.95 2066.74,460.85 2066.93,463.9C2067.13,466.95 2064.93,469.32 2064.53,470.4M2083.62,434.8C2083.45,436.8 2082.72,442.8 2082.62,446.8C2082.52,450.8 2083.09,454.88 2083.02,458.8C2082.95,462.72 2082.35,468.38 2082.22,470.3M2084.22,436.8C2084.97,438.47 2087.5,443.47 2088.72,446.8C2089.94,450.13 2091.3,452.97 2091.52,456.8C2091.74,460.63 2090.27,467.63 2090.02,469.8M2097.52,434.8C2097.37,436.8 2096.7,442.8 2096.62,446.8C2096.54,450.8 2097.09,454.88 2097.02,458.8C2096.95,462.72 2096.35,468.38 2096.22,470.3M2098.02,436.8C2098.8,438.47 2101.52,443.47 2102.72,446.8C2103.92,450.13 2105.14,452.97 2105.22,456.8C2105.3,460.63 2103.55,467.63 2103.22,469.8M2116.7,434.8C2116.22,437.68 2113.8,447.25 2113.8,452.1C2113.8,456.95 2116.61,460.85 2116.7,463.9C2116.8,466.95 2114.79,469.32 2114.41,470.4M2129.11,434.8C2128.61,437.68 2126.01,447.25 2126.11,452.1C2126.2,456.95 2129.51,460.85 2129.7,463.9C2129.9,466.95 2127.7,469.32 2127.3,470.4M2146.39,434.8C2146.22,436.8 2145.49,442.8 2145.39,446.8C2145.29,450.8 2145.86,454.88 2145.79,458.8C2145.72,462.72 2145.12,468.38 2144.99,470.3M2146.99,436.8C2147.74,438.47 2150.27,443.47 2151.49,446.8C2152.71,450.13 2154.07,452.97 2154.29,456.8C2154.51,460.63 2153.04,467.63 2152.79,469.8M2160.29,434.8C2160.14,436.8 2159.47,442.8 2159.39,446.8C2159.31,450.8 2159.86,454.88 2159.79,458.8C2159.72,462.72 2159.12,468.38 2158.99,470.3M2160.79,436.8C2161.57,438.47 2164.29,443.47 2165.49,446.8C2166.69,450.13 2167.91,452.97 2167.99,456.8C2168.07,460.63 2166.32,467.63 2165.99,469.8M2179.47,434.8C2178.99,437.68 2176.57,447.25 2176.57,452.1C2176.57,456.95 2179.38,460.85 2179.47,463.9C2179.57,466.95 2177.56,469.32 2177.18,470.4M2191.88,434.8C2191.38,437.68 2188.78,447.25 2188.88,452.1C2188.97,456.95 2192.28,460.85 2192.47,463.9C2192.67,466.95 2190.47,469.32 2190.07,470.4M2209.16,434.8C2208.99,436.8 2208.26,442.8 2208.16,446.8C2208.06,450.8 2208.63,454.88 2208.56,458.8C2208.49,462.72 2207.89,468.38 2207.76,470.3M2209.76,436.8C2210.51,438.47 2213.04,443.47 2214.26,446.8C2215.48,450.13 2216.84,452.97 2217.06,456.8C2217.28,460.63 2215.81,467.63 2215.56,469.8M2223.06,434.8C2222.91,436.8 2222.24,442.8 2222.16,446.8C2222.08,450.8 2222.63,454.88 2222.56,458.8C2222.49,462.72 2221.89,468.38 2221.76,470.3M2223.56,436.8C2224.34,438.47 2227.06,443.47 2228.26,446.8C2229.46,450.13 2230.68,452.97 2230.76,456.8C2230.84,460.63 2229.09,467.63 2228.76,469.8M2493.32,434.8C2492.84,437.68 2490.42,447.25 2490.42,452.1C2490.42,456.95 2493.22,460.85 2493.32,463.9C2493.42,466.95 2491.41,469.32 2491.03,470.4M2505.72,434.8C2505.22,437.68 2502.62,447.25 2502.72,452.1C2502.82,456.95 2506.12,460.85 2506.32,463.9C2506.52,466.95 2504.32,469.32 2503.92,470.4M2523.01,434.8C2522.84,436.8 2522.11,442.8 2522.01,446.8C2521.91,450.8 2522.48,454.88 2522.41,458.8C2522.34,462.72 2521.74,468.38 2521.61,470.3M2523.61,436.8C2524.36,438.47 2526.89,443.47 2528.11,446.8C2529.33,450.13 2530.69,452.97 2530.91,456.8C2531.13,460.63 2529.66,467.63 2529.41,469.8M2536.91,434.8C2536.76,436.8 2536.09,442.8 2536.01,446.8C2535.93,450.8 2536.48,454.88 2536.41,458.8C2536.34,462.72 2535.74,468.38 2535.61,470.3M2537.41,436.8C2538.19,438.47 2540.91,443.47 2542.11,446.8C2543.31,450.13 2544.53,452.97 2544.61,456.8C2544.69,460.63 2542.94,467.63 2542.61,469.8M2556.09,434.8C2555.61,437.68 2553.19,447.25 2553.19,452.1C2553.19,456.95 2555.99,460.85 2556.09,463.9C2556.19,466.95 2554.18,469.32 2553.8,470.4M2568.49,434.8C2567.99,437.68 2565.39,447.25 2565.49,452.1C2565.59,456.95 2568.89,460.85 2569.09,463.9C2569.29,466.95 2567.09,469.32 2566.69,470.4M2585.78,434.8C2585.61,436.8 2584.88,442.8 2584.78,446.8C2584.68,450.8 2585.25,454.88 2585.18,458.8C2585.11,462.72 2584.51,468.38 2584.38,470.3M2586.38,436.8C2587.13,438.47 2589.66,443.47 2590.88,446.8C2592.1,450.13 2593.46,452.97 2593.68,456.8C2593.9,460.63 2592.43,467.63 2592.18,469.8M2599.68,434.8C2599.53,436.8 2598.86,442.8 2598.78,446.8C2598.7,450.8 2599.25,454.88 2599.18,458.8C2599.11,462.72 2598.51,468.38 2598.38,470.3M2600.18,436.8C2600.96,438.47 2603.68,443.47 2604.88,446.8C2606.08,450.13 2607.3,452.97 2607.38,456.8C2607.46,460.63 2605.71,467.63 2605.38,469.8M2618.86,434.8C2618.38,437.68 2615.96,447.25 2615.96,452.1C2615.96,456.95 2618.76,460.85 2618.86,463.9C2618.96,466.95 2616.95,469.32 2616.57,470.4M2631.26,434.8C2630.76,437.68 2628.16,447.25 2628.26,452.1C2628.36,456.95 2631.66,460.85 2631.86,463.9C2632.06,466.95 2629.86,469.32 2629.46,470.4M2648.55,434.8C2648.38,436.8 2647.65,442.8 2647.55,446.8C2647.45,450.8 2648.02,454.88 2647.95,458.8C2647.88,462.72 2647.28,468.38 2647.15,470.3M2649.15,436.8C2649.9,438.47 2652.43,443.47 2653.65,446.8C2654.87,450.13 2656.23,452.97 2656.45,456.8C2656.67,460.63 2655.2,467.63 2654.95,469.8M2662.45,434.8C2662.3,436.8 2661.63,442.8 2661.55,446.8C2661.47,450.8 2662.02,454.88 2661.95,458.8C2661.88,462.72 2661.28,468.38 2661.15,470.3M2662.95,436.8C2663.73,438.47 2666.45,443.47 2667.65,446.8C2668.85,450.13 2670.07,452.97 2670.15,456.8C2670.23,460.63 2668.48,467.63 2668.15,469.8M2681.63,434.8C2681.15,437.68 2678.73,447.25 2678.73,452.1C2678.73,456.95 2681.53,460.85 2681.63,463.9C2681.73,466.95 2679.72,469.32 2679.34,470.4M2694.03,434.8C2693.53,437.68 2690.93,447.25 2691.03,452.1C2691.13,456.95 2694.43,460.85 2694.63,463.9C2694.83,466.95 2692.63,469.32 2692.23,470.4M2711.32,434.8C2711.15,436.8 2710.42,442.8 2710.32,446.8C2710.22,450.8 2710.79,454.88 2710.72,458.8C2710.65,462.72 2710.05,468.38 2709.92,470.3M2711.92,436.8C2712.67,438.47 2715.2,443.47 2716.42,446.8C2717.64,450.13 2719,452.97 2719.22,456.8C2719.44,460.63 2717.97,467.63 2717.72,469.8M2725.22,434.8C2725.07,436.8 2724.4,442.8 2724.32,446.8C2724.24,450.8 2724.79,454.88 2724.72,458.8C2724.65,462.72 2724.05,468.38 2723.92,470.3M2725.72,436.8C2726.5,438.47 2729.22,443.47 2730.42,446.8C2731.62,450.13 2732.84,452.97 2732.92,456.8C2733,460.63 2731.25,467.63 2730.92,469.8M2744.41,434.8C2743.92,437.68 2741.51,447.25 2741.51,452.1C2741.51,456.95 2744.31,460.85 2744.41,463.9C2744.51,466.95 2742.49,469.32 2742.11,470.4M2756.81,434.8C2756.31,437.68 2753.71,447.25 2753.81,452.1C2753.91,456.95 2757.21,460.85 2757.41,463.9C2757.61,466.95 2755.41,469.32 2755.01,470.4M2774.09,434.8C2773.92,436.8 2773.19,442.8 2773.09,446.8C2772.99,450.8 2773.56,454.88 2773.49,458.8C2773.42,462.72 2772.82,468.38 2772.69,470.3M2774.69,436.8C2775.44,438.47 2777.97,443.47 2779.19,446.8C2780.41,450.13 2781.77,452.97 2781.99,456.8C2782.21,460.63 2780.74,467.63 2780.49,469.8M2787.99,434.8C2787.84,436.8 2787.17,442.8 2787.09,446.8C2787.01,450.8 2787.56,454.88 2787.49,458.8C2787.42,462.72 2786.82,468.38 2786.69,470.3M2788.49,436.8C2789.27,438.47 2791.99,443.47 2793.19,446.8C2794.39,450.13 2795.61,452.97 2795.69,456.8C2795.77,460.63 2794.02,467.63 2793.69,469.8M2807.17,434.8C2806.69,437.68 2804.27,447.25 2804.27,452.1C2804.27,456.95 2807.07,460.85 2807.17,463.9C2807.27,466.95 2805.26,469.32 2804.88,470.4M2819.57,434.8C2819.07,437.68 2816.47,447.25 2816.57,452.1C2816.67,456.95 2819.97,460.85 2820.17,463.9C2820.37,466.95 2818.17,469.32 2817.77,470.4M2836.86,434.8C2836.69,436.8 2835.96,442.8 2835.86,446.8C2835.76,450.8 2836.33,454.88 2836.26,458.8C2836.19,462.72 2835.59,468.38 2835.46,470.3M2837.46,436.8C2838.21,438.47 2840.74,443.47 2841.96,446.8C2843.18,450.13 2844.54,452.97 2844.76,456.8C2844.98,460.63 2843.51,467.63 2843.26,469.8M2850.76,434.8C2850.61,436.8 2849.94,442.8 2849.86,446.8C2849.78,450.8 2850.33,454.88 2850.26,458.8C2850.19,462.72 2849.59,468.38 2849.46,470.3M2851.26,436.8C2852.04,438.47 2854.76,443.47 2855.96,446.8C2857.16,450.13 2858.38,452.97 2858.46,456.8C2858.54,460.63 2856.79,467.63 2856.46,469.8M2869.95,434.8C2869.46,437.68 2867.05,447.25 2867.05,452.1C2867.05,456.95 2869.85,460.85 2869.95,463.9C2870.05,466.95 2868.03,469.32 2867.65,470.4M2882.35,434.8C2881.85,437.68 2879.25,447.25 2879.35,452.1C2879.45,456.95 2882.75,460.85 2882.95,463.9C2883.14,466.95 2880.95,469.32 2880.55,470.4M2899.63,434.8C2899.46,436.8 2898.73,442.8 2898.63,446.8C2898.53,450.8 2899.1,454.88 2899.03,458.8C2898.96,462.72 2898.36,468.38 2898.23,470.3M2900.23,436.8C2900.98,438.47 2903.51,443.47 2904.73,446.8C2905.95,450.13 2907.31,452.97 2907.53,456.8C2907.75,460.63 2906.28,467.63 2906.03,469.8M2913.53,434.8C2913.38,436.8 2912.71,442.8 2912.63,446.8C2912.55,450.8 2913.1,454.88 2913.03,458.8C2912.96,462.72 2912.36,468.38 2912.23,470.3M2914.03,436.8C2914.81,438.47 2917.53,443.47 2918.73,446.8C2919.93,450.13 2921.15,452.97 2921.23,456.8C2921.31,460.63 2919.56,467.63 2919.23,469.8M2932.71,434.8C2932.23,437.68 2929.81,447.25 2929.81,452.1C2929.81,456.95 2932.61,460.85 2932.71,463.9C2932.81,466.95 2930.8,469.32 2930.41,470.4M2945.11,434.8C2944.61,437.68 2942.01,447.25 2942.11,452.1C2942.21,456.95 2945.51,460.85 2945.71,463.9C2945.91,466.95 2943.71,469.32 2943.31,470.4M2962.4,434.8C2962.23,436.8 2961.5,442.8 2961.4,446.8C2961.3,450.8 2961.87,454.88 2961.8,458.8C2961.73,462.72 2961.13,468.38 2961,470.3M2963,436.8C2963.75,438.47 2966.28,443.47 2967.5,446.8C2968.72,450.13 2970.08,452.97 2970.3,456.8C2970.52,460.63 2969.05,467.63 2968.8,469.8M2976.3,434.8C2976.15,436.8 2975.48,442.8 2975.4,446.8C2975.32,450.8 2975.87,454.88 2975.8,458.8C2975.73,462.72 2975.13,468.38 2975,470.3M2976.8,436.8C2977.58,438.47 2980.3,443.47 2981.5,446.8C2982.7,450.13 2983.92,452.97 2984,456.8C2984.08,460.63 2982.33,467.63 2982,469.8M2995.49,434.8C2995,437.68 2992.59,447.25 2992.59,452.1C2992.59,456.95 2995.39,460.85 2995.49,463.9C2995.59,466.95 2993.57,469.32 2993.19,470.4M3007.89,434.8C3007.39,437.68 3004.79,447.25 3004.89,452.1C3004.99,456.95 3008.29,460.85 3008.49,463.9C3008.68,466.95 3006.49,469.32 3006.09,470.4M3025.17,434.8C3025,436.8 3024.27,442.8 3024.17,446.8C3024.07,450.8 3024.64,454.88 3024.57,458.8C3024.5,462.72 3023.9,468.38 3023.77,470.3M3025.77,436.8C3026.52,438.47 3029.05,443.47 3030.27,446.8C3031.49,450.13 3032.85,452.97 3033.07,456.8C3033.29,460.63 3031.82,467.63 3031.57,469.8M3039.07,434.8C3038.92,436.8 3038.25,442.8 3038.17,446.8C3038.09,450.8 3038.64,454.88 3038.57,458.8C3038.5,462.72 3037.9,468.38 3037.77,470.3M3039.57,436.8C3040.35,438.47 3043.07,443.47 3044.27,446.8C3045.47,450.13 3046.69,452.97 3046.77,456.8C3046.85,460.63 3045.1,467.63 3044.77,469.8M3058.25,434.8C3057.77,437.68 3055.35,447.25 3055.35,452.1C3055.35,456.95 3058.15,460.85 3058.25,463.9C3058.35,466.95 3056.34,469.32 3055.95,470.4M3070.65,434.8C3070.15,437.68 3067.55,447.25 3067.65,452.1C3067.75,456.95 3071.05,460.85 3071.25,463.9C3071.45,466.95 3069.25,469.32 3068.85,470.4M3087.94,434.8C3087.77,436.8 3087.04,442.8 3086.94,446.8C3086.84,450.8 3087.41,454.88 3087.34,458.8C3087.27,462.72 3086.67,468.38 3086.54,470.3M3088.54,436.8C3089.29,438.47 3091.82,443.47 3093.04,446.8C3094.26,450.13 3095.62,452.97 3095.84,456.8C3096.06,460.63 3094.59,467.63 3094.34,469.8M3101.84,434.8C3101.69,436.8 3101.02,442.8 3100.94,446.8C3100.86,450.8 3101.41,454.88 3101.34,458.8C3101.27,462.72 3100.67,468.38 3100.54,470.3M3102.34,436.8C3103.12,438.47 3105.84,443.47 3107.04,446.8C3108.24,450.13 3109.46,452.97 3109.54,456.8C3109.62,460.63 3107.87,467.63 3107.54,469.8M3121.03,434.8C3120.54,437.68 3118.12,447.25 3118.12,452.1C3118.12,456.95 3120.93,460.85 3121.03,463.9C3121.12,466.95 3119.11,469.32 3118.73,470.4M3133.43,434.8C3132.93,437.68 3130.33,447.25 3130.43,452.1C3130.53,456.95 3133.83,460.85 3134.03,463.9C3134.22,466.95 3132.03,469.32 3131.62,470.4M1709,511.8C1709.58,508.72 1712.62,498.53 1712.5,493.3C1712.38,488.07 1708.6,483.65 1708.3,480.4C1708,477.15 1710.3,474.9 1710.7,473.8M1721.3,511.8C1721.58,508.72 1723.1,498.53 1723,493.3C1722.9,488.07 1720.58,483.57 1720.7,480.4C1720.82,477.23 1723.2,475.32 1723.7,474.3M1740.26,511.8C1740.84,508.72 1743.88,498.53 1743.76,493.3C1743.64,488.07 1739.86,483.65 1739.56,480.4C1739.26,477.15 1741.56,474.9 1741.96,473.8M1752.56,511.8C1752.84,508.72 1754.36,498.53 1754.26,493.3C1754.16,488.07 1751.84,483.57 1751.96,480.4C1752.08,477.23 1754.46,475.32 1754.96,474.3M1771.52,511.8C1772.1,508.72 1775.14,498.53 1775.02,493.3C1774.9,488.07 1771.12,483.65 1770.82,480.4C1770.52,477.15 1772.82,474.9 1773.22,473.8M1783.82,511.8C1784.1,508.72 1785.62,498.53 1785.52,493.3C1785.42,488.07 1783.1,483.57 1783.22,480.4C1783.34,477.23 1785.72,475.32 1786.22,474.3M1802.78,511.8C1803.36,508.72 1806.4,498.53 1806.28,493.3C1806.16,488.07 1802.38,483.65 1802.08,480.4C1801.78,477.15 1804.08,474.9 1804.48,473.8M1815.08,511.8C1815.36,508.72 1816.88,498.53 1816.78,493.3C1816.68,488.07 1814.36,483.57 1814.48,480.4C1814.6,477.23 1816.98,475.32 1817.48,474.3M1834.04,511.8C1834.62,508.72 1837.66,498.53 1837.54,493.3C1837.42,488.07 1833.64,483.65 1833.34,480.4C1833.04,477.15 1835.34,474.9 1835.74,473.8M1846.34,511.8C1846.62,508.72 1848.14,498.53 1848.04,493.3C1847.94,488.07 1845.62,483.57 1845.74,480.4C1845.86,477.23 1848.24,475.32 1848.74,474.3M1865.3,511.8C1865.88,508.72 1868.92,498.53 1868.8,493.3C1868.68,488.07 1864.9,483.65 1864.6,480.4C1864.3,477.15 1866.6,474.9 1867,473.8M1877.6,511.8C1877.88,508.72 1879.4,498.53 1879.3,493.3C1879.2,488.07 1876.88,483.57 1877,480.4C1877.12,477.23 1879.5,475.32 1880,474.3M1896.56,511.8C1897.14,508.72 1900.18,498.53 1900.06,493.3C1899.94,488.07 1896.16,483.65 1895.86,480.4C1895.56,477.15 1897.86,474.9 1898.26,473.8M1908.86,511.8C1909.14,508.72 1910.66,498.53 1910.56,493.3C1910.46,488.07 1908.14,483.57 1908.26,480.4C1908.38,477.23 1910.76,475.32 1911.26,474.3M1927.82,511.8C1928.4,508.72 1931.44,498.53 1931.32,493.3C1931.2,488.07 1927.42,483.65 1927.12,480.4C1926.82,477.15 1929.12,474.9 1929.52,473.8M1940.12,511.8C1940.4,508.72 1941.92,498.53 1941.82,493.3C1941.72,488.07 1939.4,483.57 1939.52,480.4C1939.64,477.23 1942.02,475.32 1942.52,474.3M1959.08,511.8C1959.66,508.72 1962.7,498.53 1962.58,493.3C1962.46,488.07 1958.68,483.65 1958.38,480.4C1958.08,477.15 1960.38,474.9 1960.78,473.8M1971.38,511.8C1971.66,508.72 1973.18,498.53 1973.08,493.3C1972.98,488.07 1970.66,483.57 1970.78,480.4C1970.9,477.23 1973.28,475.32 1973.78,474.3M1990.34,511.8C1990.92,508.72 1993.96,498.53 1993.84,493.3C1993.72,488.07 1989.94,483.65 1989.64,480.4C1989.34,477.15 1991.64,474.9 1992.04,473.8M2002.64,511.8C2002.92,508.72 2004.44,498.53 2004.34,493.3C2004.24,488.07 2001.92,483.57 2002.04,480.4C2002.16,477.23 2004.54,475.32 2005.04,474.3M2021.6,511.8C2022.18,508.72 2025.22,498.53 2025.1,493.3C2024.98,488.07 2021.2,483.65 2020.9,480.4C2020.6,477.15 2022.9,474.9 2023.3,473.8M2033.9,511.8C2034.18,508.72 2035.7,498.53 2035.6,493.3C2035.5,488.07 2033.18,483.57 2033.3,480.4C2033.42,477.23 2035.8,475.32 2036.3,474.3M2052.86,511.8C2053.44,508.72 2056.48,498.53 2056.36,493.3C2056.24,488.07 2052.46,483.65 2052.16,480.4C2051.86,477.15 2054.16,474.9 2054.56,473.8M2065.16,511.8C2065.44,508.72 2066.96,498.53 2066.86,493.3C2066.76,488.07 2064.44,483.57 2064.56,480.4C2064.68,477.23 2067.06,475.32 2067.56,474.3M2084.12,511.8C2084.7,508.72 2087.74,498.53 2087.62,493.3C2087.5,488.07 2083.72,483.65 2083.42,480.4C2083.12,477.15 2085.42,474.9 2085.82,473.8M2096.42,511.8C2096.7,508.72 2098.22,498.53 2098.12,493.3C2098.02,488.07 2095.7,483.57 2095.82,480.4C2095.94,477.23 2098.32,475.32 2098.82,474.3M2115.38,511.8C2115.96,508.72 2119,498.53 2118.88,493.3C2118.76,488.07 2114.98,483.65 2114.68,480.4C2114.38,477.15 2116.68,474.9 2117.08,473.8M2127.68,511.8C2127.96,508.72 2129.48,498.53 2129.38,493.3C2129.28,488.07 2126.96,483.57 2127.08,480.4C2127.2,477.23 2129.58,475.32 2130.08,474.3M2146.64,511.8C2147.22,508.72 2150.26,498.53 2150.14,493.3C2150.02,488.07 2146.24,483.65 2145.94,480.4C2145.64,477.15 2147.94,474.9 2148.34,473.8M2158.94,511.8C2159.22,508.72 2160.74,498.53 2160.64,493.3C2160.54,488.07 2158.22,483.57 2158.34,480.4C2158.46,477.23 2160.84,475.32 2161.34,474.3M2177.9,511.8C2178.48,508.72 2181.52,498.53 2181.4,493.3C2181.28,488.07 2177.5,483.65 2177.2,480.4C2176.9,477.15 2179.2,474.9 2179.6,473.8M2190.2,511.8C2190.48,508.72 2192,498.53 2191.9,493.3C2191.8,488.07 2189.48,483.57 2189.6,480.4C2189.72,477.23 2192.1,475.32 2192.6,474.3M2209.16,511.8C2209.74,508.72 2212.78,498.53 2212.66,493.3C2212.54,488.07 2208.76,483.65 2208.46,480.4C2208.16,477.15 2210.46,474.9 2210.86,473.8M2221.46,511.8C2221.74,508.72 2223.26,498.53 2223.16,493.3C2223.06,488.07 2220.74,483.57 2220.86,480.4C2220.98,477.23 2223.36,475.32 2223.86,474.3M2490.5,511.8C2491.08,508.72 2494.12,498.53 2494,493.3C2493.88,488.07 2490.1,483.65 2489.8,480.4C2489.5,477.15 2491.8,474.9 2492.2,473.8M2502.8,511.8C2503.08,508.72 2504.6,498.53 2504.5,493.3C2504.4,488.07 2502.08,483.57 2502.2,480.4C2502.32,477.23 2504.7,475.32 2505.2,474.3M2521.76,511.8C2522.34,508.72 2525.38,498.53 2525.26,493.3C2525.14,488.07 2521.36,483.65 2521.06,480.4C2520.76,477.15 2523.06,474.9 2523.46,473.8M2534.06,511.8C2534.34,508.72 2535.86,498.53 2535.76,493.3C2535.66,488.07 2533.34,483.57 2533.46,480.4C2533.58,477.23 2535.96,475.32 2536.46,474.3M2553.02,511.8C2553.6,508.72 2556.64,498.53 2556.52,493.3C2556.4,488.07 2552.62,483.65 2552.32,480.4C2552.02,477.15 2554.32,474.9 2554.72,473.8M2565.32,511.8C2565.6,508.72 2567.12,498.53 2567.02,493.3C2566.92,488.07 2564.6,483.57 2564.72,480.4C2564.84,477.23 2567.22,475.32 2567.72,474.3M2584.28,511.8C2584.86,508.72 2587.9,498.53 2587.78,493.3C2587.66,488.07 2583.88,483.65 2583.58,480.4C2583.28,477.15 2585.58,474.9 2585.98,473.8M2596.58,511.8C2596.86,508.72 2598.38,498.53 2598.28,493.3C2598.18,488.07 2595.86,483.57 2595.98,480.4C2596.1,477.23 2598.48,475.32 2598.98,474.3M2615.54,511.8C2616.12,508.72 2619.16,498.53 2619.04,493.3C2618.92,488.07 2615.14,483.65 2614.84,480.4C2614.54,477.15 2616.84,474.9 2617.24,473.8M2627.84,511.8C2628.12,508.72 2629.64,498.53 2629.54,493.3C2629.44,488.07 2627.12,483.57 2627.24,480.4C2627.36,477.23 2629.74,475.32 2630.24,474.3M2646.8,511.8C2647.38,508.72 2650.42,498.53 2650.3,493.3C2650.18,488.07 2646.4,483.65 2646.1,480.4C2645.8,477.15 2648.1,474.9 2648.5,473.8M2659.1,511.8C2659.38,508.72 2660.9,498.53 2660.8,493.3C2660.7,488.07 2658.38,483.57 2658.5,480.4C2658.62,477.23 2661,475.32 2661.5,474.3M2678.06,511.8C2678.64,508.72 2681.68,498.53 2681.56,493.3C2681.44,488.07 2677.66,483.65 2677.36,480.4C2677.06,477.15 2679.36,474.9 2679.76,473.8M2690.36,511.8C2690.64,508.72 2692.16,498.53 2692.06,493.3C2691.96,488.07 2689.64,483.57 2689.76,480.4C2689.88,477.23 2692.26,475.32 2692.76,474.3M2709.32,511.8C2709.9,508.72 2712.94,498.53 2712.82,493.3C2712.7,488.07 2708.92,483.65 2708.62,480.4C2708.32,477.15 2710.62,474.9 2711.02,473.8M2721.62,511.8C2721.9,508.72 2723.42,498.53 2723.32,493.3C2723.22,488.07 2720.9,483.57 2721.02,480.4C2721.14,477.23 2723.52,475.32 2724.02,474.3M2740.58,511.8C2741.16,508.72 2744.2,498.53 2744.08,493.3C2743.96,488.07 2740.18,483.65 2739.88,480.4C2739.58,477.15 2741.88,474.9 2742.28,473.8M2752.88,511.8C2753.16,508.72 2754.68,498.53 2754.58,493.3C2754.48,488.07 2752.16,483.57 2752.28,480.4C2752.4,477.23 2754.78,475.32 2755.28,474.3M2771.84,511.8C2772.42,508.72 2775.46,498.53 2775.34,493.3C2775.22,488.07 2771.44,483.65 2771.14,480.4C2770.84,477.15 2773.14,474.9 2773.54,473.8M2784.14,511.8C2784.42,508.72 2785.94,498.53 2785.84,493.3C2785.74,488.07 2783.42,483.57 2783.54,480.4C2783.66,477.23 2786.04,475.32 2786.54,474.3M2803.1,511.8C2803.68,508.72 2806.72,498.53 2806.6,493.3C2806.48,488.07 2802.7,483.65 2802.4,480.4C2802.1,477.15 2804.4,474.9 2804.8,473.8M2815.4,511.8C2815.68,508.72 2817.2,498.53 2817.1,493.3C2817,488.07 2814.68,483.57 2814.8,480.4C2814.92,477.23 2817.3,475.32 2817.8,474.3M2834.36,511.8C2834.94,508.72 2837.98,498.53 2837.86,493.3C2837.74,488.07 2833.96,483.65 2833.66,480.4C2833.36,477.15 2835.66,474.9 2836.06,473.8M2846.66,511.8C2846.94,508.72 2848.46,498.53 2848.36,493.3C2848.26,488.07 2845.94,483.57 2846.06,480.4C2846.18,477.23 2848.56,475.32 2849.06,474.3M2865.62,511.8C2866.2,508.72 2869.24,498.53 2869.12,493.3C2869,488.07 2865.22,483.65 2864.92,480.4C2864.62,477.15 2866.92,474.9 2867.32,473.8M2877.92,511.8C2878.2,508.72 2879.72,498.53 2879.62,493.3C2879.52,488.07 2877.2,483.57 2877.32,480.4C2877.44,477.23 2879.82,475.32 2880.32,474.3M2896.88,511.8C2897.46,508.72 2900.5,498.53 2900.38,493.3C2900.26,488.07 2896.48,483.65 2896.18,480.4C2895.88,477.15 2898.18,474.9 2898.58,473.8M2909.18,511.8C2909.46,508.72 2910.98,498.53 2910.88,493.3C2910.78,488.07 2908.46,483.57 2908.58,480.4C2908.7,477.23 2911.08,475.32 2911.58,474.3M2928.14,511.8C2928.72,508.72 2931.76,498.53 2931.64,493.3C2931.52,488.07 2927.74,483.65 2927.44,480.4C2927.14,477.15 2929.44,474.9 2929.84,473.8M2940.44,511.8C2940.72,508.72 2942.24,498.53 2942.14,493.3C2942.04,488.07 2939.72,483.57 2939.84,480.4C2939.96,477.23 2942.34,475.32 2942.84,474.3M2959.4,511.8C2959.98,508.72 2963.02,498.53 2962.9,493.3C2962.78,488.07 2959,483.65 2958.7,480.4C2958.4,477.15 2960.7,474.9 2961.1,473.8M2971.7,511.8C2971.98,508.72 2973.5,498.53 2973.4,493.3C2973.3,488.07 2970.98,483.57 2971.1,480.4C2971.22,477.23 2973.6,475.32 2974.1,474.3M2990.66,511.8C2991.24,508.72 2994.28,498.53 2994.16,493.3C2994.04,488.07 2990.26,483.65 2989.96,480.4C2989.66,477.15 2991.96,474.9 2992.36,473.8M3002.96,511.8C3003.24,508.72 3004.76,498.53 3004.66,493.3C3004.56,488.07 3002.24,483.57 3002.36,480.4C3002.48,477.23 3004.86,475.32 3005.36,474.3M3021.92,511.8C3022.5,508.72 3025.54,498.53 3025.42,493.3C3025.3,488.07 3021.52,483.65 3021.22,480.4C3020.92,477.15 3023.22,474.9 3023.62,473.8M3034.22,511.8C3034.5,508.72 3036.02,498.53 3035.92,493.3C3035.82,488.07 3033.5,483.57 3033.62,480.4C3033.74,477.23 3036.12,475.32 3036.62,474.3M3053.18,511.8C3053.76,508.72 3056.8,498.53 3056.68,493.3C3056.56,488.07 3052.78,483.65 3052.48,480.4C3052.18,477.15 3054.48,474.9 3054.88,473.8M3065.48,511.8C3065.76,508.72 3067.28,498.53 3067.18,493.3C3067.08,488.07 3064.76,483.57 3064.88,480.4C3065,477.23 3067.38,475.32 3067.88,474.3M3084.44,511.8C3085.02,508.72 3088.06,498.53 3087.94,493.3C3087.82,488.07 3084.04,483.65 3083.74,480.4C3083.44,477.15 3085.74,474.9 3086.14,473.8M3096.74,511.8C3097.02,508.72 3098.54,498.53 3098.44,493.3C3098.34,488.07 3096.02,483.57 3096.14,480.4C3096.26,477.23 3098.64,475.32 3099.14,474.3M3115.7,511.8C3116.28,508.72 3119.32,498.53 3119.2,493.3C3119.08,488.07 3115.3,483.65 3115,480.4C3114.7,477.15 3117,474.9 3117.4,473.8M3128,511.8C3128.28,508.72 3129.8,498.53 3129.7,493.3C3129.6,488.07 3127.28,483.57 3127.4,480.4C3127.52,477.23 3129.9,475.32 3130.4,474.3M1708.1,672.9C1707.77,676.15 1705.88,687.4 1706.1,692.4C1706.32,697.4 1709.3,700.07 1709.4,702.9C1709.5,705.73 1707.15,708.32 1706.7,709.4M1720.5,672.9C1719.95,675.93 1716.98,686.33 1717.2,691.1C1717.42,695.87 1721.37,698.45 1721.8,701.5C1722.23,704.55 1720.13,708.08 1719.8,709.4M1739.37,672.9C1739.04,676.15 1737.15,687.4 1737.37,692.4C1737.59,697.4 1740.57,700.07 1740.67,702.9C1740.77,705.73 1738.42,708.32 1737.97,709.4M1751.77,672.9C1751.22,675.93 1748.25,686.33 1748.47,691.1C1748.69,695.87 1752.64,698.45 1753.07,701.5C1753.5,704.55 1751.4,708.08 1751.07,709.4M1770.64,672.9C1770.31,676.15 1768.42,687.4 1768.64,692.4C1768.86,697.4 1771.84,700.07 1771.94,702.9C1772.04,705.73 1769.69,708.32 1769.24,709.4M1783.04,672.9C1782.49,675.93 1779.52,686.33 1779.74,691.1C1779.96,695.87 1783.91,698.45 1784.34,701.5C1784.77,704.55 1782.67,708.08 1782.34,709.4M1801.91,672.9C1801.58,676.15 1799.69,687.4 1799.91,692.4C1800.13,697.4 1803.11,700.07 1803.21,702.9C1803.31,705.73 1800.96,708.32 1800.51,709.4M1814.31,672.9C1813.76,675.93 1810.79,686.33 1811.01,691.1C1811.23,695.87 1815.18,698.45 1815.61,701.5C1816.04,704.55 1813.94,708.08 1813.61,709.4M1833.18,672.9C1832.85,676.15 1830.96,687.4 1831.18,692.4C1831.4,697.4 1834.38,700.07 1834.48,702.9C1834.58,705.73 1832.23,708.32 1831.78,709.4M1845.58,672.9C1845.03,675.93 1842.06,686.33 1842.28,691.1C1842.5,695.87 1846.45,698.45 1846.88,701.5C1847.31,704.55 1845.21,708.08 1844.88,709.4M1864.45,672.9C1864.12,676.15 1862.23,687.4 1862.45,692.4C1862.67,697.4 1865.65,700.07 1865.75,702.9C1865.85,705.73 1863.5,708.32 1863.05,709.4M1876.85,672.9C1876.3,675.93 1873.33,686.33 1873.55,691.1C1873.77,695.87 1877.72,698.45 1878.15,701.5C1878.58,704.55 1876.48,708.08 1876.15,709.4M1895.72,672.9C1895.39,676.15 1893.5,687.4 1893.72,692.4C1893.94,697.4 1896.92,700.07 1897.02,702.9C1897.12,705.73 1894.77,708.32 1894.32,709.4M1908.12,672.9C1907.57,675.93 1904.6,686.33 1904.82,691.1C1905.04,695.87 1908.99,698.45 1909.42,701.5C1909.85,704.55 1907.75,708.08 1907.42,709.4M1926.99,672.9C1926.66,676.15 1924.77,687.4 1924.99,692.4C1925.21,697.4 1928.19,700.07 1928.29,702.9C1928.39,705.73 1926.04,708.32 1925.59,709.4M1939.39,672.9C1938.84,675.93 1935.87,686.33 1936.09,691.1C1936.31,695.87 1940.26,698.45 1940.69,701.5C1941.12,704.55 1939.02,708.08 1938.69,709.4M1958.26,672.9C1957.93,676.15 1956.04,687.4 1956.26,692.4C1956.48,697.4 1959.46,700.07 1959.56,702.9C1959.66,705.73 1957.31,708.32 1956.86,709.4M1970.66,672.9C1970.11,675.93 1967.14,686.33 1967.36,691.1C1967.58,695.87 1971.53,698.45 1971.96,701.5C1972.39,704.55 1970.29,708.08 1969.96,709.4M1989.53,672.9C1989.2,676.15 1987.31,687.4 1987.53,692.4C1987.75,697.4 1990.73,700.07 1990.83,702.9C1990.93,705.73 1988.58,708.32 1988.13,709.4M2001.93,672.9C2001.38,675.93 1998.41,686.33 1998.63,691.1C1998.85,695.87 2002.8,698.45 2003.23,701.5C2003.66,704.55 2001.56,708.08 2001.23,709.4M2020.8,672.9C2020.47,676.15 2018.58,687.4 2018.8,692.4C2019.02,697.4 2022,700.07 2022.1,702.9C2022.2,705.73 2019.85,708.32 2019.4,709.4M2033.2,672.9C2032.65,675.93 2029.68,686.33 2029.9,691.1C2030.12,695.87 2034.07,698.45 2034.5,701.5C2034.93,704.55 2032.83,708.08 2032.5,709.4M2052.07,672.9C2051.74,676.15 2049.85,687.4 2050.07,692.4C2050.29,697.4 2053.27,700.07 2053.37,702.9C2053.47,705.73 2051.12,708.32 2050.67,709.4M2064.47,672.9C2063.92,675.93 2060.95,686.33 2061.17,691.1C2061.39,695.87 2065.34,698.45 2065.77,701.5C2066.2,704.55 2064.1,708.08 2063.77,709.4M2083.34,672.9C2083.01,676.15 2081.12,687.4 2081.34,692.4C2081.56,697.4 2084.54,700.07 2084.64,702.9C2084.74,705.73 2082.39,708.32 2081.94,709.4M2095.74,672.9C2095.19,675.93 2092.22,686.33 2092.44,691.1C2092.66,695.87 2096.61,698.45 2097.04,701.5C2097.47,704.55 2095.37,708.08 2095.04,709.4M2114.61,672.9C2114.28,676.15 2112.39,687.4 2112.61,692.4C2112.83,697.4 2115.81,700.07 2115.91,702.9C2116.01,705.73 2113.66,708.32 2113.21,709.4M2127.01,672.9C2126.46,675.93 2123.49,686.33 2123.71,691.1C2123.93,695.87 2127.88,698.45 2128.31,701.5C2128.74,704.55 2126.64,708.08 2126.31,709.4M2145.88,672.9C2145.55,676.15 2143.66,687.4 2143.88,692.4C2144.1,697.4 2147.08,700.07 2147.18,702.9C2147.28,705.73 2144.93,708.32 2144.48,709.4M2158.28,672.9C2157.73,675.93 2154.76,686.33 2154.98,691.1C2155.2,695.87 2159.15,698.45 2159.58,701.5C2160.01,704.55 2157.91,708.08 2157.58,709.4M2177.15,672.9C2176.82,676.15 2174.93,687.4 2175.15,692.4C2175.37,697.4 2178.35,700.07 2178.45,702.9C2178.55,705.73 2176.2,708.32 2175.75,709.4M2189.55,672.9C2189,675.93 2186.03,686.33 2186.25,691.1C2186.47,695.87 2190.42,698.45 2190.85,701.5C2191.28,704.55 2189.18,708.08 2188.85,709.4M2208.42,672.9C2208.09,676.15 2206.2,687.4 2206.42,692.4C2206.64,697.4 2209.62,700.07 2209.72,702.9C2209.82,705.73 2207.47,708.32 2207.02,709.4M2220.82,672.9C2220.27,675.93 2217.3,686.33 2217.52,691.1C2217.74,695.87 2221.69,698.45 2222.12,701.5C2222.55,704.55 2220.45,708.08 2220.12,709.4M2489.85,672.9C2489.52,676.15 2487.63,687.4 2487.85,692.4C2488.07,697.4 2491.05,700.07 2491.15,702.9C2491.25,705.73 2488.9,708.32 2488.45,709.4M2502.25,672.9C2501.7,675.93 2498.73,686.33 2498.95,691.1C2499.17,695.87 2503.12,698.45 2503.55,701.5C2503.98,704.55 2501.88,708.08 2501.55,709.4M2521.12,672.9C2520.79,676.15 2518.9,687.4 2519.12,692.4C2519.34,697.4 2522.32,700.07 2522.42,702.9C2522.52,705.73 2520.17,708.32 2519.72,709.4M2533.52,672.9C2532.97,675.93 2530,686.33 2530.22,691.1C2530.44,695.87 2534.39,698.45 2534.82,701.5C2535.25,704.55 2533.15,708.08 2532.82,709.4M2552.39,672.9C2552.06,676.15 2550.17,687.4 2550.39,692.4C2550.61,697.4 2553.59,700.07 2553.69,702.9C2553.79,705.73 2551.44,708.32 2550.99,709.4M2564.79,672.9C2564.24,675.93 2561.27,686.33 2561.49,691.1C2561.71,695.87 2565.66,698.45 2566.09,701.5C2566.52,704.55 2564.42,708.08 2564.09,709.4M2583.66,672.9C2583.33,676.15 2581.44,687.4 2581.66,692.4C2581.88,697.4 2584.86,700.07 2584.96,702.9C2585.06,705.73 2582.71,708.32 2582.26,709.4M2596.06,672.9C2595.51,675.93 2592.54,686.33 2592.76,691.1C2592.98,695.87 2596.93,698.45 2597.36,701.5C2597.79,704.55 2595.69,708.08 2595.36,709.4M2614.93,672.9C2614.6,676.15 2612.71,687.4 2612.93,692.4C2613.15,697.4 2616.13,700.07 2616.23,702.9C2616.33,705.73 2613.98,708.32 2613.53,709.4M2627.33,672.9C2626.78,675.93 2623.81,686.33 2624.03,691.1C2624.25,695.87 2628.2,698.45 2628.63,701.5C2629.06,704.55 2626.96,708.08 2626.63,709.4M2646.2,672.9C2645.87,676.15 2643.98,687.4 2644.2,692.4C2644.42,697.4 2647.4,700.07 2647.5,702.9C2647.6,705.73 2645.25,708.32 2644.8,709.4M2658.6,672.9C2658.05,675.93 2655.08,686.33 2655.3,691.1C2655.52,695.87 2659.47,698.45 2659.9,701.5C2660.33,704.55 2658.23,708.08 2657.9,709.4M2677.47,672.9C2677.14,676.15 2675.25,687.4 2675.47,692.4C2675.69,697.4 2678.67,700.07 2678.77,702.9C2678.87,705.73 2676.52,708.32 2676.07,709.4M2689.87,672.9C2689.32,675.93 2686.35,686.33 2686.57,691.1C2686.79,695.87 2690.74,698.45 2691.17,701.5C2691.6,704.55 2689.5,708.08 2689.17,709.4M2708.74,672.9C2708.41,676.15 2706.52,687.4 2706.74,692.4C2706.96,697.4 2709.94,700.07 2710.04,702.9C2710.14,705.73 2707.79,708.32 2707.34,709.4M2721.14,672.9C2720.59,675.93 2717.62,686.33 2717.84,691.1C2718.06,695.87 2722.01,698.45 2722.44,701.5C2722.87,704.55 2720.77,708.08 2720.44,709.4M2740.01,672.9C2739.68,676.15 2737.79,687.4 2738.01,692.4C2738.23,697.4 2741.21,700.07 2741.31,702.9C2741.41,705.73 2739.06,708.32 2738.61,709.4M2752.41,672.9C2751.86,675.93 2748.89,686.33 2749.11,691.1C2749.33,695.87 2753.28,698.45 2753.71,701.5C2754.14,704.55 2752.04,708.08 2751.71,709.4M2771.28,672.9C2770.95,676.15 2769.06,687.4 2769.28,692.4C2769.5,697.4 2772.48,700.07 2772.58,702.9C2772.68,705.73 2770.33,708.32 2769.88,709.4M2783.68,672.9C2783.13,675.93 2780.16,686.33 2780.38,691.1C2780.6,695.87 2784.55,698.45 2784.98,701.5C2785.41,704.55 2783.31,708.08 2782.98,709.4M2802.55,672.9C2802.22,676.15 2800.33,687.4 2800.55,692.4C2800.77,697.4 2803.75,700.07 2803.85,702.9C2803.95,705.73 2801.6,708.32 2801.15,709.4M2814.95,672.9C2814.4,675.93 2811.43,686.33 2811.65,691.1C2811.87,695.87 2815.82,698.45 2816.25,701.5C2816.68,704.55 2814.58,708.08 2814.25,709.4M2833.82,672.9C2833.49,676.15 2831.6,687.4 2831.82,692.4C2832.04,697.4 2835.02,700.07 2835.12,702.9C2835.22,705.73 2832.87,708.32 2832.42,709.4M2846.22,672.9C2845.67,675.93 2842.7,686.33 2842.92,691.1C2843.14,695.87 2847.09,698.45 2847.52,701.5C2847.95,704.55 2845.85,708.08 2845.52,709.4M2865.09,672.9C2864.76,676.15 2862.87,687.4 2863.09,692.4C2863.31,697.4 2866.29,700.07 2866.39,702.9C2866.49,705.73 2864.14,708.32 2863.69,709.4M2877.49,672.9C2876.94,675.93 2873.97,686.33 2874.19,691.1C2874.41,695.87 2878.36,698.45 2878.79,701.5C2879.22,704.55 2877.12,708.08 2876.79,709.4M2896.36,672.9C2896.03,676.15 2894.14,687.4 2894.36,692.4C2894.58,697.4 2897.56,700.07 2897.66,702.9C2897.76,705.73 2895.41,708.32 2894.96,709.4M2908.76,672.9C2908.21,675.93 2905.24,686.33 2905.46,691.1C2905.68,695.87 2909.63,698.45 2910.06,701.5C2910.49,704.55 2908.39,708.08 2908.06,709.4M2927.63,672.9C2927.3,676.15 2925.41,687.4 2925.63,692.4C2925.85,697.4 2928.83,700.07 2928.93,702.9C2929.03,705.73 2926.68,708.32 2926.23,709.4M2940.03,672.9C2939.48,675.93 2936.51,686.33 2936.73,691.1C2936.95,695.87 2940.9,698.45 2941.33,701.5C2941.76,704.55 2939.66,708.08 2939.33,709.4M2958.9,672.9C2958.57,676.15 2956.68,687.4 2956.9,692.4C2957.12,697.4 2960.1,700.07 2960.2,702.9C2960.3,705.73 2957.95,708.32 2957.5,709.4M2971.3,672.9C2970.75,675.93 2967.78,686.33 2968,691.1C2968.22,695.87 2972.17,698.45 2972.6,701.5C2973.03,704.55 2970.93,708.08 2970.6,709.4M2990.17,672.9C2989.84,676.15 2987.95,687.4 2988.17,692.4C2988.39,697.4 2991.37,700.07 2991.47,702.9C2991.57,705.73 2989.22,708.32 2988.77,709.4M3002.57,672.9C3002.02,675.93 2999.05,686.33 2999.27,691.1C2999.49,695.87 3003.44,698.45 3003.87,701.5C3004.3,704.55 3002.2,708.08 3001.87,709.4M3021.44,672.9C3021.11,676.15 3019.22,687.4 3019.44,692.4C3019.66,697.4 3022.64,700.07 3022.74,702.9C3022.84,705.73 3020.49,708.32 3020.04,709.4M3033.84,672.9C3033.29,675.93 3030.32,686.33 3030.54,691.1C3030.76,695.87 3034.71,698.45 3035.14,701.5C3035.57,704.55 3033.47,708.08 3033.14,709.4M3052.71,672.9C3052.38,676.15 3050.49,687.4 3050.71,692.4C3050.93,697.4 3053.91,700.07 3054.01,702.9C3054.11,705.73 3051.76,708.32 3051.31,709.4M3065.11,672.9C3064.56,675.93 3061.59,686.33 3061.81,691.1C3062.03,695.87 3065.98,698.45 3066.41,701.5C3066.84,704.55 3064.74,708.08 3064.41,709.4M3083.98,672.9C3083.65,676.15 3081.76,687.4 3081.98,692.4C3082.2,697.4 3085.18,700.07 3085.28,702.9C3085.38,705.73 3083.03,708.32 3082.58,709.4M3096.38,672.9C3095.83,675.93 3092.86,686.33 3093.08,691.1C3093.3,695.87 3097.25,698.45 3097.68,701.5C3098.11,704.55 3096.01,708.08 3095.68,709.4M3115.25,672.9C3114.92,676.15 3113.03,687.4 3113.25,692.4C3113.47,697.4 3116.45,700.07 3116.55,702.9C3116.65,705.73 3114.3,708.32 3113.85,709.4M3127.65,672.9C3127.1,675.93 3124.13,686.33 3124.35,691.1C3124.57,695.87 3128.52,698.45 3128.95,701.5C3129.38,704.55 3127.28,708.08 3126.95,709.4M1710.7,751C1711.13,747.75 1713.4,736.7 1713.3,731.5C1713.2,726.3 1710.42,722.72 1710.1,719.8C1709.78,716.88 1711.18,714.97 1711.4,714M1722.5,751C1722.93,747.75 1725.1,736.7 1725.1,731.5C1725.1,726.3 1722.5,722.72 1722.5,719.8C1722.5,716.88 1724.67,714.97 1725.1,714M1742,751C1742.43,747.75 1744.7,736.7 1744.6,731.5C1744.5,726.3 1741.72,722.72 1741.4,719.8C1741.08,716.88 1742.48,714.97 1742.7,714M1753.8,751C1754.23,747.75 1756.4,736.7 1756.4,731.5C1756.4,726.3 1753.8,722.72 1753.8,719.8C1753.8,716.88 1755.97,714.97 1756.4,714M1773.3,751C1773.73,747.75 1776,736.7 1775.9,731.5C1775.8,726.3 1773.02,722.72 1772.7,719.8C1772.38,716.88 1773.78,714.97 1774,714M1785.1,751C1785.53,747.75 1787.7,736.7 1787.7,731.5C1787.7,726.3 1785.1,722.72 1785.1,719.8C1785.1,716.88 1787.27,714.97 1787.7,714M1804.6,751C1805.03,747.75 1807.3,736.7 1807.2,731.5C1807.1,726.3 1804.32,722.72 1804,719.8C1803.68,716.88 1805.08,714.97 1805.3,714M1816.4,751C1816.83,747.75 1819,736.7 1819,731.5C1819,726.3 1816.4,722.72 1816.4,719.8C1816.4,716.88 1818.57,714.97 1819,714M1835.9,751C1836.33,747.75 1838.6,736.7 1838.5,731.5C1838.4,726.3 1835.62,722.72 1835.3,719.8C1834.98,716.88 1836.38,714.97 1836.6,714M1847.7,751C1848.13,747.75 1850.3,736.7 1850.3,731.5C1850.3,726.3 1847.7,722.72 1847.7,719.8C1847.7,716.88 1849.87,714.97 1850.3,714M1867.2,751C1867.63,747.75 1869.9,736.7 1869.8,731.5C1869.7,726.3 1866.92,722.72 1866.6,719.8C1866.28,716.88 1867.68,714.97 1867.9,714M1879,751C1879.43,747.75 1881.6,736.7 1881.6,731.5C1881.6,726.3 1879,722.72 1879,719.8C1879,716.88 1881.17,714.97 1881.6,714M1898.5,751C1898.93,747.75 1901.2,736.7 1901.1,731.5C1901,726.3 1898.22,722.72 1897.9,719.8C1897.58,716.88 1898.98,714.97 1899.2,714M1910.3,751C1910.73,747.75 1912.9,736.7 1912.9,731.5C1912.9,726.3 1910.3,722.72 1910.3,719.8C1910.3,716.88 1912.47,714.97 1912.9,714M1929.8,751C1930.23,747.75 1932.5,736.7 1932.4,731.5C1932.3,726.3 1929.52,722.72 1929.2,719.8C1928.88,716.88 1930.28,714.97 1930.5,714M1941.6,751C1942.03,747.75 1944.2,736.7 1944.2,731.5C1944.2,726.3 1941.6,722.72 1941.6,719.8C1941.6,716.88 1943.77,714.97 1944.2,714M1961.1,751C1961.53,747.75 1963.8,736.7 1963.7,731.5C1963.6,726.3 1960.82,722.72 1960.5,719.8C1960.18,716.88 1961.58,714.97 1961.8,714M1972.9,751C1973.33,747.75 1975.5,736.7 1975.5,731.5C1975.5,726.3 1972.9,722.72 1972.9,719.8C1972.9,716.88 1975.07,714.97 1975.5,714M1992.4,751C1992.83,747.75 1995.1,736.7 1995,731.5C1994.9,726.3 1992.12,722.72 1991.8,719.8C1991.48,716.88 1992.88,714.97 1993.1,714M2004.2,751C2004.63,747.75 2006.8,736.7 2006.8,731.5C2006.8,726.3 2004.2,722.72 2004.2,719.8C2004.2,716.88 2006.37,714.97 2006.8,714M2023.7,751C2024.13,747.75 2026.4,736.7 2026.3,731.5C2026.2,726.3 2023.42,722.72 2023.1,719.8C2022.78,716.88 2024.18,714.97 2024.4,714M2035.5,751C2035.93,747.75 2038.1,736.7 2038.1,731.5C2038.1,726.3 2035.5,722.72 2035.5,719.8C2035.5,716.88 2037.67,714.97 2038.1,714M2055,751C2055.43,747.75 2057.7,736.7 2057.6,731.5C2057.5,726.3 2054.72,722.72 2054.4,719.8C2054.08,716.88 2055.48,714.97 2055.7,714M2066.8,751C2067.23,747.75 2069.4,736.7 2069.4,731.5C2069.4,726.3 2066.8,722.72 2066.8,719.8C2066.8,716.88 2068.97,714.97 2069.4,714M2086.3,751C2086.73,747.75 2089,736.7 2088.9,731.5C2088.8,726.3 2086.02,722.72 2085.7,719.8C2085.38,716.88 2086.78,714.97 2087,714M2098.1,751C2098.53,747.75 2100.7,736.7 2100.7,731.5C2100.7,726.3 2098.1,722.72 2098.1,719.8C2098.1,716.88 2100.27,714.97 2100.7,714M2117.6,751C2118.03,747.75 2120.3,736.7 2120.2,731.5C2120.1,726.3 2117.32,722.72 2117,719.8C2116.68,716.88 2118.08,714.97 2118.3,714M2129.4,751C2129.83,747.75 2132,736.7 2132,731.5C2132,726.3 2129.4,722.72 2129.4,719.8C2129.4,716.88 2131.57,714.97 2132,714M2148.9,751C2149.33,747.75 2151.6,736.7 2151.5,731.5C2151.4,726.3 2148.62,722.72 2148.3,719.8C2147.98,716.88 2149.38,714.97 2149.6,714M2160.7,751C2161.13,747.75 2163.3,736.7 2163.3,731.5C2163.3,726.3 2160.7,722.72 2160.7,719.8C2160.7,716.88 2162.87,714.97 2163.3,714M2180.2,751C2180.63,747.75 2182.9,736.7 2182.8,731.5C2182.7,726.3 2179.92,722.72 2179.6,719.8C2179.28,716.88 2180.68,714.97 2180.9,714M2192,751C2192.43,747.75 2194.6,736.7 2194.6,731.5C2194.6,726.3 2192,722.72 2192,719.8C2192,716.88 2194.17,714.97 2194.6,714M2211.5,751C2211.93,747.75 2214.2,736.7 2214.1,731.5C2214,726.3 2211.22,722.72 2210.9,719.8C2210.58,716.88 2211.98,714.97 2212.2,714M2223.3,751C2223.73,747.75 2225.9,736.7 2225.9,731.5C2225.9,726.3 2223.3,722.72 2223.3,719.8C2223.3,716.88 2225.47,714.97 2225.9,714M2493.2,751C2493.63,747.75 2495.9,736.7 2495.8,731.5C2495.7,726.3 2492.92,722.72 2492.6,719.8C2492.28,716.88 2493.68,714.97 2493.9,714M2505,751C2505.43,747.75 2507.6,736.7 2507.6,731.5C2507.6,726.3 2505,722.72 2505,719.8C2505,716.88 2507.17,714.97 2507.6,714M2524.5,751C2524.93,747.75 2527.2,736.7 2527.1,731.5C2527,726.3 2524.22,722.72 2523.9,719.8C2523.58,716.88 2524.98,714.97 2525.2,714M2536.3,751C2536.73,747.75 2538.9,736.7 2538.9,731.5C2538.9,726.3 2536.3,722.72 2536.3,719.8C2536.3,716.88 2538.47,714.97 2538.9,714M2555.8,751C2556.23,747.75 2558.5,736.7 2558.4,731.5C2558.3,726.3 2555.52,722.72 2555.2,719.8C2554.88,716.88 2556.28,714.97 2556.5,714M2567.6,751C2568.03,747.75 2570.2,736.7 2570.2,731.5C2570.2,726.3 2567.6,722.72 2567.6,719.8C2567.6,716.88 2569.77,714.97 2570.2,714M2587.1,751C2587.53,747.75 2589.8,736.7 2589.7,731.5C2589.6,726.3 2586.82,722.72 2586.5,719.8C2586.18,716.88 2587.58,714.97 2587.8,714M2598.9,751C2599.33,747.75 2601.5,736.7 2601.5,731.5C2601.5,726.3 2598.9,722.72 2598.9,719.8C2598.9,716.88 2601.07,714.97 2601.5,714M2618.4,751C2618.83,747.75 2621.1,736.7 2621,731.5C2620.9,726.3 2618.12,722.72 2617.8,719.8C2617.48,716.88 2618.88,714.97 2619.1,714M2630.2,751C2630.63,747.75 2632.8,736.7 2632.8,731.5C2632.8,726.3 2630.2,722.72 2630.2,719.8C2630.2,716.88 2632.37,714.97 2632.8,714M2649.7,751C2650.13,747.75 2652.4,736.7 2652.3,731.5C2652.2,726.3 2649.42,722.72 2649.1,719.8C2648.78,716.88 2650.18,714.97 2650.4,714M2661.5,751C2661.93,747.75 2664.1,736.7 2664.1,731.5C2664.1,726.3 2661.5,722.72 2661.5,719.8C2661.5,716.88 2663.67,714.97 2664.1,714M2681,751C2681.43,747.75 2683.7,736.7 2683.6,731.5C2683.5,726.3 2680.72,722.72 2680.4,719.8C2680.08,716.88 2681.48,714.97 2681.7,714M2692.8,751C2693.23,747.75 2695.4,736.7 2695.4,731.5C2695.4,726.3 2692.8,722.72 2692.8,719.8C2692.8,716.88 2694.97,714.97 2695.4,714M2712.3,751C2712.73,747.75 2715,736.7 2714.9,731.5C2714.8,726.3 2712.02,722.72 2711.7,719.8C2711.38,716.88 2712.78,714.97 2713,714M2724.1,751C2724.53,747.75 2726.7,736.7 2726.7,731.5C2726.7,726.3 2724.1,722.72 2724.1,719.8C2724.1,716.88 2726.27,714.97 2726.7,714M2743.6,751C2744.03,747.75 2746.3,736.7 2746.2,731.5C2746.1,726.3 2743.32,722.72 2743,719.8C2742.68,716.88 2744.08,714.97 2744.3,714M2755.4,751C2755.83,747.75 2758,736.7 2758,731.5C2758,726.3 2755.4,722.72 2755.4,719.8C2755.4,716.88 2757.57,714.97 2758,714M2774.9,751C2775.33,747.75 2777.6,736.7 2777.5,731.5C2777.4,726.3 2774.62,722.72 2774.3,719.8C2773.98,716.88 2775.38,714.97 2775.6,714M2786.7,751C2787.13,747.75 2789.3,736.7 2789.3,731.5C2789.3,726.3 2786.7,722.72 2786.7,719.8C2786.7,716.88 2788.87,714.97 2789.3,714M2806.2,751C2806.63,747.75 2808.9,736.7 2808.8,731.5C2808.7,726.3 2805.92,722.72 2805.6,719.8C2805.28,716.88 2806.68,714.97 2806.9,714M2818,751C2818.43,747.75 2820.6,736.7 2820.6,731.5C2820.6,726.3 2818,722.72 2818,719.8C2818,716.88 2820.17,714.97 2820.6,714M2837.5,751C2837.93,747.75 2840.2,736.7 2840.1,731.5C2840,726.3 2837.22,722.72 2836.9,719.8C2836.58,716.88 2837.98,714.97 2838.2,714M2849.3,751C2849.73,747.75 2851.9,736.7 2851.9,731.5C2851.9,726.3 2849.3,722.72 2849.3,719.8C2849.3,716.88 2851.47,714.97 2851.9,714M2868.8,751C2869.23,747.75 2871.5,736.7 2871.4,731.5C2871.3,726.3 2868.52,722.72 2868.2,719.8C2867.88,716.88 2869.28,714.97 2869.5,714M2880.6,751C2881.03,747.75 2883.2,736.7 2883.2,731.5C2883.2,726.3 2880.6,722.72 2880.6,719.8C2880.6,716.88 2882.77,714.97 2883.2,714M2900.1,751C2900.53,747.75 2902.8,736.7 2902.7,731.5C2902.6,726.3 2899.82,722.72 2899.5,719.8C2899.18,716.88 2900.58,714.97 2900.8,714M2911.9,751C2912.33,747.75 2914.5,736.7 2914.5,731.5C2914.5,726.3 2911.9,722.72 2911.9,719.8C2911.9,716.88 2914.07,714.97 2914.5,714M2931.4,751C2931.83,747.75 2934.1,736.7 2934,731.5C2933.9,726.3 2931.12,722.72 2930.8,719.8C2930.48,716.88 2931.88,714.97 2932.1,714M2943.2,751C2943.63,747.75 2945.8,736.7 2945.8,731.5C2945.8,726.3 2943.2,722.72 2943.2,719.8C2943.2,716.88 2945.37,714.97 2945.8,714M2962.7,751C2963.13,747.75 2965.4,736.7 2965.3,731.5C2965.2,726.3 2962.42,722.72 2962.1,719.8C2961.78,716.88 2963.18,714.97 2963.4,714M2974.5,751C2974.93,747.75 2977.1,736.7 2977.1,731.5C2977.1,726.3 2974.5,722.72 2974.5,719.8C2974.5,716.88 2976.67,714.97 2977.1,714M2994,751C2994.43,747.75 2996.7,736.7 2996.6,731.5C2996.5,726.3 2993.72,722.72 2993.4,719.8C2993.08,716.88 2994.48,714.97 2994.7,714M3005.8,751C3006.23,747.75 3008.4,736.7 3008.4,731.5C3008.4,726.3 3005.8,722.72 3005.8,719.8C3005.8,716.88 3007.97,714.97 3008.4,714M3025.3,751C3025.73,747.75 3028,736.7 3027.9,731.5C3027.8,726.3 3025.02,722.72 3024.7,719.8C3024.38,716.88 3025.78,714.97 3026,714M3037.1,751C3037.53,747.75 3039.7,736.7 3039.7,731.5C3039.7,726.3 3037.1,722.72 3037.1,719.8C3037.1,716.88 3039.27,714.97 3039.7,714M3056.6,751C3057.03,747.75 3059.3,736.7 3059.2,731.5C3059.1,726.3 3056.32,722.72 3056,719.8C3055.68,716.88 3057.08,714.97 3057.3,714M3068.4,751C3068.83,747.75 3071,736.7 3071,731.5C3071,726.3 3068.4,722.72 3068.4,719.8C3068.4,716.88 3070.57,714.97 3071,714M3087.9,751C3088.33,747.75 3090.6,736.7 3090.5,731.5C3090.4,726.3 3087.62,722.72 3087.3,719.8C3086.98,716.88 3088.38,714.97 3088.6,714M3099.7,751C3100.13,747.75 3102.3,736.7 3102.3,731.5C3102.3,726.3 3099.7,722.72 3099.7,719.8C3099.7,716.88 3101.87,714.97 3102.3,714M3119.2,751C3119.63,747.75 3121.9,736.7 3121.8,731.5C3121.7,726.3 3118.92,722.72 3118.6,719.8C3118.28,716.88 3119.68,714.97 3119.9,714M3131,751C3131.43,747.75 3133.6,736.7 3133.6,731.5C3133.6,726.3 3131,722.72 3131,719.8C3131,716.88 3133.17,714.97 3133.6,714" fill="none" stroke="#6f3a6e" stroke-width="4.0" stroke-linecap="round"/>
<path d="M1706.1,372.55L1709.86,367.6L1715.54,367.6L1719.3,372.55L1715.54,377.5L1709.86,377.5ZM1706.1,382.7L1709.86,377.75L1715.54,377.75L1719.3,382.7L1715.54,387.65L1709.86,387.65ZM1706.1,392.85L1709.86,387.9L1715.54,387.9L1719.3,392.85L1715.54,397.8L1709.86,397.8ZM1706.1,403L1709.86,398.05L1715.54,398.05L1719.3,403L1715.54,407.95L1709.86,407.95ZM1706.1,413.15L1709.86,408.2L1715.54,408.2L1719.3,413.15L1715.54,418.1L1709.86,418.1ZM1720.97,390.03L1721.97,384.17L1728,381.49L1733.03,384.67L1732.03,390.53L1726,393.21ZM1733.87,384.13L1734.87,378.27L1740.9,375.59L1745.93,378.77L1744.93,384.63L1738.9,387.31ZM1771.4,351.25L1775.16,346.3L1780.84,346.3L1784.6,351.25L1780.84,356.2L1775.16,356.2ZM1771.4,361.4L1775.16,356.45L1780.84,356.45L1784.6,361.4L1780.84,366.35L1775.16,366.35ZM1771.4,371.55L1775.16,366.6L1780.84,366.6L1784.6,371.55L1780.84,376.5L1775.16,376.5ZM1771.4,381.7L1775.16,376.75L1780.84,376.75L1784.6,381.7L1780.84,386.65L1775.16,386.65ZM1771.4,391.85L1775.16,386.9L1780.84,386.9L1784.6,391.85L1780.84,396.8L1775.16,396.8ZM1771.4,402L1775.16,397.05L1780.84,397.05L1784.6,402L1780.84,406.95L1775.16,406.95ZM1771.4,412.15L1775.16,407.2L1780.84,407.2L1784.6,412.15L1780.84,417.1L1775.16,417.1ZM1771.4,422.3L1775.16,417.35L1780.84,417.35L1784.6,422.3L1780.84,427.25L1775.16,427.25ZM1787.18,358.72L1788.39,352.9L1794.51,350.42L1799.42,353.78L1798.21,359.6L1792.09,362.08ZM1800.28,353.52L1801.49,347.7L1807.61,345.22L1812.52,348.58L1811.31,354.4L1805.19,356.88ZM1755.12,370.96L1760.2,367.87L1766.18,370.66L1767.08,376.54L1762,379.63L1756.02,376.84ZM1742.92,364.96L1748,361.87L1753.98,364.66L1754.88,370.54L1749.8,373.63L1743.82,370.84ZM1832.4,372.55L1836.16,367.6L1841.84,367.6L1845.6,372.55L1841.84,377.5L1836.16,377.5ZM1832.4,382.7L1836.16,377.75L1841.84,377.75L1845.6,382.7L1841.84,387.65L1836.16,387.65ZM1832.4,392.85L1836.16,387.9L1841.84,387.9L1845.6,392.85L1841.84,397.8L1836.16,397.8ZM1832.4,403L1836.16,398.05L1841.84,398.05L1845.6,403L1841.84,407.95L1836.16,407.95ZM1832.4,413.15L1836.16,408.2L1841.84,408.2L1845.6,413.15L1841.84,418.1L1836.16,418.1ZM1847.27,390.03L1848.27,384.17L1854.3,381.49L1859.33,384.67L1858.33,390.53L1852.3,393.21ZM1860.17,384.13L1861.17,378.27L1867.2,375.59L1872.23,378.77L1871.23,384.63L1865.2,387.31ZM1893.4,372.55L1897.16,367.6L1902.84,367.6L1906.6,372.55L1902.84,377.5L1897.16,377.5ZM1893.4,382.7L1897.16,377.75L1902.84,377.75L1906.6,382.7L1902.84,387.65L1897.16,387.65ZM1893.4,392.85L1897.16,387.9L1902.84,387.9L1906.6,392.85L1902.84,397.8L1897.16,397.8ZM1893.4,403L1897.16,398.05L1902.84,398.05L1906.6,403L1902.84,407.95L1897.16,407.95ZM1893.4,413.15L1897.16,408.2L1902.84,408.2L1906.6,413.15L1902.84,418.1L1897.16,418.1ZM1908.27,390.03L1909.27,384.17L1915.3,381.49L1920.33,384.67L1919.33,390.53L1913.3,393.21ZM1921.17,384.13L1922.17,378.27L1928.2,375.59L1933.23,378.77L1932.23,384.63L1926.2,387.31ZM1959,351.25L1962.76,346.3L1968.44,346.3L1972.2,351.25L1968.44,356.2L1962.76,356.2ZM1959,361.4L1962.76,356.45L1968.44,356.45L1972.2,361.4L1968.44,366.35L1962.76,366.35ZM1959,371.55L1962.76,366.6L1968.44,366.6L1972.2,371.55L1968.44,376.5L1962.76,376.5ZM1959,381.7L1962.76,376.75L1968.44,376.75L1972.2,381.7L1968.44,386.65L1962.76,386.65ZM1959,391.85L1962.76,386.9L1968.44,386.9L1972.2,391.85L1968.44,396.8L1962.76,396.8ZM1959,402L1962.76,397.05L1968.44,397.05L1972.2,402L1968.44,406.95L1962.76,406.95ZM1959,412.15L1962.76,407.2L1968.44,407.2L1972.2,412.15L1968.44,417.1L1962.76,417.1ZM1959,422.3L1962.76,417.35L1968.44,417.35L1972.2,422.3L1968.44,427.25L1962.76,427.25ZM1974.78,358.72L1975.99,352.9L1982.11,350.42L1987.02,353.78L1985.81,359.6L1979.69,362.08ZM1987.88,353.52L1989.09,347.7L1995.21,345.22L2000.12,348.58L1998.91,354.4L1992.79,356.88ZM1942.72,370.96L1947.8,367.87L1953.78,370.66L1954.68,376.54L1949.6,379.63L1943.62,376.84ZM1930.52,364.96L1935.6,361.87L1941.58,364.66L1942.48,370.54L1937.4,373.63L1931.42,370.84ZM2017.9,372.55L2021.66,367.6L2027.34,367.6L2031.1,372.55L2027.34,377.5L2021.66,377.5ZM2017.9,382.7L2021.66,377.75L2027.34,377.75L2031.1,382.7L2027.34,387.65L2021.66,387.65ZM2017.9,392.85L2021.66,387.9L2027.34,387.9L2031.1,392.85L2027.34,397.8L2021.66,397.8ZM2017.9,403L2021.66,398.05L2027.34,398.05L2031.1,403L2027.34,407.95L2021.66,407.95ZM2017.9,413.15L2021.66,408.2L2027.34,408.2L2031.1,413.15L2027.34,418.1L2021.66,418.1ZM2032.77,390.03L2033.77,384.17L2039.8,381.49L2044.83,384.67L2043.83,390.53L2037.8,393.21ZM2045.67,384.13L2046.67,378.27L2052.7,375.59L2057.73,378.77L2056.73,384.63L2050.7,387.31ZM2082,381.85L2085.76,376.9L2091.44,376.9L2095.2,381.85L2091.44,386.8L2085.76,386.8ZM2082,392L2085.76,387.05L2091.44,387.05L2095.2,392L2091.44,396.95L2085.76,396.95ZM2082,402.15L2085.76,397.2L2091.44,397.2L2095.2,402.15L2091.44,407.1L2085.76,407.1ZM2082,412.3L2085.76,407.35L2091.44,407.35L2095.2,412.3L2091.44,417.25L2085.76,417.25ZM2082,422.45L2085.76,417.5L2091.44,417.5L2095.2,422.45L2091.44,427.4L2085.76,427.4ZM2144.4,329.35L2148.16,324.4L2153.84,324.4L2157.6,329.35L2153.84,334.3L2148.16,334.3ZM2144.4,339.5L2148.16,334.55L2153.84,334.55L2157.6,339.5L2153.84,344.45L2148.16,344.45ZM2144.4,349.65L2148.16,344.7L2153.84,344.7L2157.6,349.65L2153.84,354.6L2148.16,354.6ZM2144.4,359.8L2148.16,354.85L2153.84,354.85L2157.6,359.8L2153.84,364.75L2148.16,364.75ZM2144.4,369.95L2148.16,365L2153.84,365L2157.6,369.95L2153.84,374.9L2148.16,374.9ZM2144.4,380.1L2148.16,375.15L2153.84,375.15L2157.6,380.1L2153.84,385.05L2148.16,385.05ZM2144.4,390.25L2148.16,385.3L2153.84,385.3L2157.6,390.25L2153.84,395.2L2148.16,395.2ZM2144.4,400.4L2148.16,395.45L2153.84,395.45L2157.6,400.4L2153.84,405.35L2148.16,405.35ZM2144.4,410.55L2148.16,405.6L2153.84,405.6L2157.6,410.55L2153.84,415.5L2148.16,415.5ZM2144.4,420.7L2148.16,415.75L2153.84,415.75L2157.6,420.7L2153.84,425.65L2148.16,425.65ZM2160.18,336.82L2161.39,331L2167.51,328.52L2172.42,331.88L2171.21,337.7L2165.09,340.18ZM2173.28,331.62L2174.49,325.8L2180.61,323.32L2185.52,326.68L2184.31,332.5L2178.19,334.98ZM2206.4,372.55L2210.16,367.6L2215.84,367.6L2219.6,372.55L2215.84,377.5L2210.16,377.5ZM2206.4,382.7L2210.16,377.75L2215.84,377.75L2219.6,382.7L2215.84,387.65L2210.16,387.65ZM2206.4,392.85L2210.16,387.9L2215.84,387.9L2219.6,392.85L2215.84,397.8L2210.16,397.8ZM2206.4,403L2210.16,398.05L2215.84,398.05L2219.6,403L2215.84,407.95L2210.16,407.95ZM2206.4,413.15L2210.16,408.2L2215.84,408.2L2219.6,413.15L2215.84,418.1L2210.16,418.1ZM2519.9,372.55L2523.66,367.6L2529.34,367.6L2533.1,372.55L2529.34,377.5L2523.66,377.5ZM2519.9,382.7L2523.66,377.75L2529.34,377.75L2533.1,382.7L2529.34,387.65L2523.66,387.65ZM2519.9,392.85L2523.66,387.9L2529.34,387.9L2533.1,392.85L2529.34,397.8L2523.66,397.8ZM2519.9,403L2523.66,398.05L2529.34,398.05L2533.1,403L2529.34,407.95L2523.66,407.95ZM2519.9,413.15L2523.66,408.2L2529.34,408.2L2533.1,413.15L2529.34,418.1L2523.66,418.1ZM2534.77,390.03L2535.77,384.17L2541.8,381.49L2546.83,384.67L2545.83,390.53L2539.8,393.21ZM2547.67,384.13L2548.67,378.27L2554.7,375.59L2559.73,378.77L2558.73,384.63L2552.7,387.31ZM2584.7,329.35L2588.46,324.4L2594.14,324.4L2597.9,329.35L2594.14,334.3L2588.46,334.3ZM2584.7,339.5L2588.46,334.55L2594.14,334.55L2597.9,339.5L2594.14,344.45L2588.46,344.45ZM2584.7,349.65L2588.46,344.7L2594.14,344.7L2597.9,349.65L2594.14,354.6L2588.46,354.6ZM2584.7,359.8L2588.46,354.85L2594.14,354.85L2597.9,359.8L2594.14,364.75L2588.46,364.75ZM2584.7,369.95L2588.46,365L2594.14,365L2597.9,369.95L2594.14,374.9L2588.46,374.9ZM2584.7,380.1L2588.46,375.15L2594.14,375.15L2597.9,380.1L2594.14,385.05L2588.46,385.05ZM2584.7,390.25L2588.46,385.3L2594.14,385.3L2597.9,390.25L2594.14,395.2L2588.46,395.2ZM2584.7,400.4L2588.46,395.45L2594.14,395.45L2597.9,400.4L2594.14,405.35L2588.46,405.35ZM2584.7,410.55L2588.46,405.6L2594.14,405.6L2597.9,410.55L2594.14,415.5L2588.46,415.5ZM2584.7,420.7L2588.46,415.75L2594.14,415.75L2597.9,420.7L2594.14,425.65L2588.46,425.65ZM2600.48,336.82L2601.69,331L2607.81,328.52L2612.72,331.88L2611.51,337.7L2605.39,340.18ZM2613.58,331.62L2614.79,325.8L2620.91,323.32L2625.82,326.68L2624.61,332.5L2618.49,334.98ZM2646.7,351.25L2650.46,346.3L2656.14,346.3L2659.9,351.25L2656.14,356.2L2650.46,356.2ZM2646.7,361.4L2650.46,356.45L2656.14,356.45L2659.9,361.4L2656.14,366.35L2650.46,366.35ZM2646.7,371.55L2650.46,366.6L2656.14,366.6L2659.9,371.55L2656.14,376.5L2650.46,376.5ZM2646.7,381.7L2650.46,376.75L2656.14,376.75L2659.9,381.7L2656.14,386.65L2650.46,386.65ZM2646.7,391.85L2650.46,386.9L2656.14,386.9L2659.9,391.85L2656.14,396.8L2650.46,396.8ZM2646.7,402L2650.46,397.05L2656.14,397.05L2659.9,402L2656.14,406.95L2650.46,406.95ZM2646.7,412.15L2650.46,407.2L2656.14,407.2L2659.9,412.15L2656.14,417.1L2650.46,417.1ZM2646.7,422.3L2650.46,417.35L2656.14,417.35L2659.9,422.3L2656.14,427.25L2650.46,427.25ZM2662.48,358.72L2663.69,352.9L2669.81,350.42L2674.72,353.78L2673.51,359.6L2667.39,362.08ZM2675.58,353.52L2676.79,347.7L2682.91,345.22L2687.82,348.58L2686.61,354.4L2680.49,356.88ZM2630.42,370.96L2635.5,367.87L2641.48,370.66L2642.38,376.54L2637.3,379.63L2631.32,376.84ZM2618.22,364.96L2623.3,361.87L2629.28,364.66L2630.18,370.54L2625.1,373.63L2619.12,370.84ZM2710.3,372.55L2714.06,367.6L2719.74,367.6L2723.5,372.55L2719.74,377.5L2714.06,377.5ZM2710.3,382.7L2714.06,377.75L2719.74,377.75L2723.5,382.7L2719.74,387.65L2714.06,387.65ZM2710.3,392.85L2714.06,387.9L2719.74,387.9L2723.5,392.85L2719.74,397.8L2714.06,397.8ZM2710.3,403L2714.06,398.05L2719.74,398.05L2723.5,403L2719.74,407.95L2714.06,407.95ZM2710.3,413.15L2714.06,408.2L2719.74,408.2L2723.5,413.15L2719.74,418.1L2714.06,418.1ZM2725.17,390.03L2726.17,384.17L2732.2,381.49L2737.23,384.67L2736.23,390.53L2730.2,393.21ZM2738.07,384.13L2739.07,378.27L2745.1,375.59L2750.13,378.77L2749.13,384.63L2743.1,387.31ZM2770.4,329.35L2774.16,324.4L2779.84,324.4L2783.6,329.35L2779.84,334.3L2774.16,334.3ZM2770.4,339.5L2774.16,334.55L2779.84,334.55L2783.6,339.5L2779.84,344.45L2774.16,344.45ZM2770.4,349.65L2774.16,344.7L2779.84,344.7L2783.6,349.65L2779.84,354.6L2774.16,354.6ZM2770.4,359.8L2774.16,354.85L2779.84,354.85L2783.6,359.8L2779.84,364.75L2774.16,364.75ZM2770.4,369.95L2774.16,365L2779.84,365L2783.6,369.95L2779.84,374.9L2774.16,374.9ZM2770.4,380.1L2774.16,375.15L2779.84,375.15L2783.6,380.1L2779.84,385.05L2774.16,385.05ZM2770.4,390.25L2774.16,385.3L2779.84,385.3L2783.6,390.25L2779.84,395.2L2774.16,395.2ZM2770.4,400.4L2774.16,395.45L2779.84,395.45L2783.6,400.4L2779.84,405.35L2774.16,405.35ZM2770.4,410.55L2774.16,405.6L2779.84,405.6L2783.6,410.55L2779.84,415.5L2774.16,415.5ZM2770.4,420.7L2774.16,415.75L2779.84,415.75L2783.6,420.7L2779.84,425.65L2774.16,425.65ZM2786.18,336.82L2787.39,331L2793.51,328.52L2798.42,331.88L2797.21,337.7L2791.09,340.18ZM2799.28,331.62L2800.49,325.8L2806.61,323.32L2811.52,326.68L2810.31,332.5L2804.19,334.98ZM2829.7,381.85L2833.46,376.9L2839.14,376.9L2842.9,381.85L2839.14,386.8L2833.46,386.8ZM2829.7,392L2833.46,387.05L2839.14,387.05L2842.9,392L2839.14,396.95L2833.46,396.95ZM2829.7,402.15L2833.46,397.2L2839.14,397.2L2842.9,402.15L2839.14,407.1L2833.46,407.1ZM2829.7,412.3L2833.46,407.35L2839.14,407.35L2842.9,412.3L2839.14,417.25L2833.46,417.25ZM2829.7,422.45L2833.46,417.5L2839.14,417.5L2842.9,422.45L2839.14,427.4L2833.46,427.4ZM2895.8,372.55L2899.56,367.6L2905.24,367.6L2909,372.55L2905.24,377.5L2899.56,377.5ZM2895.8,382.7L2899.56,377.75L2905.24,377.75L2909,382.7L2905.24,387.65L2899.56,387.65ZM2895.8,392.85L2899.56,387.9L2905.24,387.9L2909,392.85L2905.24,397.8L2899.56,397.8ZM2895.8,403L2899.56,398.05L2905.24,398.05L2909,403L2905.24,407.95L2899.56,407.95ZM2895.8,413.15L2899.56,408.2L2905.24,408.2L2909,413.15L2905.24,418.1L2899.56,418.1ZM2910.67,390.03L2911.67,384.17L2917.7,381.49L2922.73,384.67L2921.73,390.53L2915.7,393.21ZM2923.57,384.13L2924.57,378.27L2930.6,375.59L2935.63,378.77L2934.63,384.63L2928.6,387.31ZM2961.1,351.25L2964.86,346.3L2970.54,346.3L2974.3,351.25L2970.54,356.2L2964.86,356.2ZM2961.1,361.4L2964.86,356.45L2970.54,356.45L2974.3,361.4L2970.54,366.35L2964.86,366.35ZM2961.1,371.55L2964.86,366.6L2970.54,366.6L2974.3,371.55L2970.54,376.5L2964.86,376.5ZM2961.1,381.7L2964.86,376.75L2970.54,376.75L2974.3,381.7L2970.54,386.65L2964.86,386.65ZM2961.1,391.85L2964.86,386.9L2970.54,386.9L2974.3,391.85L2970.54,396.8L2964.86,396.8ZM2961.1,402L2964.86,397.05L2970.54,397.05L2974.3,402L2970.54,406.95L2964.86,406.95ZM2961.1,412.15L2964.86,407.2L2970.54,407.2L2974.3,412.15L2970.54,417.1L2964.86,417.1ZM2961.1,422.3L2964.86,417.35L2970.54,417.35L2974.3,422.3L2970.54,427.25L2964.86,427.25ZM2976.88,358.72L2978.09,352.9L2984.21,350.42L2989.12,353.78L2987.91,359.6L2981.79,362.08ZM2989.98,353.52L2991.19,347.7L2997.31,345.22L3002.22,348.58L3001.01,354.4L2994.89,356.88ZM2944.82,370.96L2949.9,367.87L2955.88,370.66L2956.78,376.54L2951.7,379.63L2945.72,376.84ZM2932.62,364.96L2937.7,361.87L2943.68,364.66L2944.58,370.54L2939.5,373.63L2933.52,370.84ZM3023,329.35L3026.76,324.4L3032.44,324.4L3036.2,329.35L3032.44,334.3L3026.76,334.3ZM3023,339.5L3026.76,334.55L3032.44,334.55L3036.2,339.5L3032.44,344.45L3026.76,344.45ZM3023,349.65L3026.76,344.7L3032.44,344.7L3036.2,349.65L3032.44,354.6L3026.76,354.6ZM3023,359.8L3026.76,354.85L3032.44,354.85L3036.2,359.8L3032.44,364.75L3026.76,364.75ZM3023,369.95L3026.76,365L3032.44,365L3036.2,369.95L3032.44,374.9L3026.76,374.9ZM3023,380.1L3026.76,375.15L3032.44,375.15L3036.2,380.1L3032.44,385.05L3026.76,385.05ZM3023,390.25L3026.76,385.3L3032.44,385.3L3036.2,390.25L3032.44,395.2L3026.76,395.2ZM3023,400.4L3026.76,395.45L3032.44,395.45L3036.2,400.4L3032.44,405.35L3026.76,405.35ZM3023,410.55L3026.76,405.6L3032.44,405.6L3036.2,410.55L3032.44,415.5L3026.76,415.5ZM3023,420.7L3026.76,415.75L3032.44,415.75L3036.2,420.7L3032.44,425.65L3026.76,425.65ZM3038.78,336.82L3039.99,331L3046.11,328.52L3051.02,331.88L3049.81,337.7L3043.69,340.18ZM3051.88,331.62L3053.09,325.8L3059.21,323.32L3064.12,326.68L3062.91,332.5L3056.79,334.98ZM3082.8,381.85L3086.56,376.9L3092.24,376.9L3096,381.85L3092.24,386.8L3086.56,386.8ZM3082.8,392L3086.56,387.05L3092.24,387.05L3096,392L3092.24,396.95L3086.56,396.95ZM3082.8,402.15L3086.56,397.2L3092.24,397.2L3096,402.15L3092.24,407.1L3086.56,407.1ZM3082.8,412.3L3086.56,407.35L3092.24,407.35L3096,412.3L3092.24,417.25L3086.56,417.25ZM3082.8,422.45L3086.56,417.5L3092.24,417.5L3096,422.45L3092.24,427.4L3086.56,427.4Z" fill="#f6a41c" stroke="#f6a41c" stroke-width="0.6" stroke-linejoin="round"/><path d="M1715.7,392.05L1727,387.35M1781,360.75L1793.3,356.25M1776,381.75L1761.1,373.75M1842,392.05L1853.3,387.35M1903,392.05L1914.3,387.35M1968.6,360.75L1980.9,356.25M1963.6,381.75L1948.7,373.75M2027.5,392.05L2038.8,387.35M2154,338.85L2166.3,334.35M2529.5,392.05L2540.8,387.35M2594.3,338.85L2606.6,334.35M2656.3,360.75L2668.6,356.25M2651.3,381.75L2636.4,373.75M2719.9,392.05L2731.2,387.35M2780,338.85L2792.3,334.35M2905.4,392.05L2916.7,387.35M2970.7,360.75L2983,356.25M2965.7,381.75L2950.8,373.75M3032.6,338.85L3044.9,334.35" stroke="#f6a41c" stroke-width="1.6" fill="none"/>
<g fill="#6f3a6e"><rect x="1699.4" y="416.8" width="30.4" height="20.0" rx="14" ry="10.0"/><rect x="1730.78" y="416.8" width="30.4" height="20.0" rx="14" ry="10.0"/><rect x="1762.17" y="416.8" width="30.4" height="20.0" rx="14" ry="10.0"/><rect x="1793.55" y="416.8" width="30.4" height="20.0" rx="14" ry="10.0"/><rect x="1824.94" y="416.8" width="30.4" height="20.0" rx="14" ry="10.0"/><rect x="1856.32" y="416.8" width="30.4" height="20.0" rx="14" ry="10.0"/><rect x="1887.71" y="416.8" width="30.4" height="20.0" rx="14" ry="10.0"/><rect x="1919.09" y="416.8" width="30.4" height="20.0" rx="14" ry="10.0"/><rect x="1950.48" y="416.8" width="30.4" height="20.0" rx="14" ry="10.0"/><rect x="1981.87" y="416.8" width="30.4" height="20.0" rx="14" ry="10.0"/><rect x="2013.25" y="416.8" width="30.4" height="20.0" rx="14" ry="10.0"/><rect x="2044.63" y="416.8" width="30.4" height="20.0" rx="14" ry="10.0"/><rect x="2076.02" y="416.8" width="30.4" height="20.0" rx="14" ry="10.0"/><rect x="2107.41" y="416.8" width="30.4" height="20.0" rx="14" ry="10.0"/><rect x="2138.79" y="416.8" width="30.4" height="20.0" rx="14" ry="10.0"/><rect x="2170.18" y="416.8" width="30.4" height="20.0" rx="14" ry="10.0"/><rect x="2201.56" y="416.8" width="30.4" height="20.0" rx="14" ry="10.0"/><rect x="2484.03" y="416.8" width="30.4" height="20.0" rx="14" ry="10.0"/><rect x="2515.41" y="416.8" width="30.4" height="20.0" rx="14" ry="10.0"/><rect x="2546.8" y="416.8" width="30.4" height="20.0" rx="14" ry="10.0"/><rect x="2578.18" y="416.8" width="30.4" height="20.0" rx="14" ry="10.0"/><rect x="2609.57" y="416.8" width="30.4" height="20.0" rx="14" ry="10.0"/><rect x="2640.95" y="416.8" width="30.4" height="20.0" rx="14" ry="10.0"/><rect x="2672.34" y="416.8" width="30.4" height="20.0" rx="14" ry="10.0"/><rect x="2703.72" y="416.8" width="30.4" height="20.0" rx="14" ry="10.0"/><rect x="2735.11" y="416.8" width="30.4" height="20.0" rx="14" ry="10.0"/><rect x="2766.49" y="416.8" width="30.4" height="20.0" rx="14" ry="10.0"/><rect x="2797.88" y="416.8" width="30.4" height="20.0" rx="14" ry="10.0"/><rect x="2829.26" y="416.8" width="30.4" height="20.0" rx="14" ry="10.0"/><rect x="2860.65" y="416.8" width="30.4" height="20.0" rx="14" ry="10.0"/><rect x="2892.03" y="416.8" width="30.4" height="20.0" rx="14" ry="10.0"/><rect x="2923.41" y="416.8" width="30.4" height="20.0" rx="14" ry="10.0"/><rect x="2954.8" y="416.8" width="30.4" height="20.0" rx="14" ry="10.0"/><rect x="2986.19" y="416.8" width="30.4" height="20.0" rx="14" ry="10.0"/><rect x="3017.57" y="416.8" width="30.4" height="20.0" rx="14" ry="10.0"/><rect x="3048.95" y="416.8" width="30.4" height="20.0" rx="14" ry="10.0"/><rect x="3080.34" y="416.8" width="30.4" height="20.0" rx="14" ry="10.0"/><rect x="3111.73" y="416.8" width="30.4" height="20.0" rx="14" ry="10.0"/><rect x="1698.8" y="509.4" width="30.4" height="20.8" rx="14" ry="10.4"/><rect x="1730.06" y="509.4" width="30.4" height="20.8" rx="14" ry="10.4"/><rect x="1761.32" y="509.4" width="30.4" height="20.8" rx="14" ry="10.4"/><rect x="1792.58" y="509.4" width="30.4" height="20.8" rx="14" ry="10.4"/><rect x="1823.84" y="509.4" width="30.4" height="20.8" rx="14" ry="10.4"/><rect x="1855.1" y="509.4" width="30.4" height="20.8" rx="14" ry="10.4"/><rect x="1886.36" y="509.4" width="30.4" height="20.8" rx="14" ry="10.4"/><rect x="1917.62" y="509.4" width="30.4" height="20.8" rx="14" ry="10.4"/><rect x="1948.88" y="509.4" width="30.4" height="20.8" rx="14" ry="10.4"/><rect x="1980.14" y="509.4" width="30.4" height="20.8" rx="14" ry="10.4"/><rect x="2011.4" y="509.4" width="30.4" height="20.8" rx="14" ry="10.4"/><rect x="2042.66" y="509.4" width="30.4" height="20.8" rx="14" ry="10.4"/><rect x="2073.92" y="509.4" width="30.4" height="20.8" rx="14" ry="10.4"/><rect x="2105.18" y="509.4" width="30.4" height="20.8" rx="14" ry="10.4"/><rect x="2136.44" y="509.4" width="30.4" height="20.8" rx="14" ry="10.4"/><rect x="2167.7" y="509.4" width="30.4" height="20.8" rx="14" ry="10.4"/><rect x="2198.96" y="509.4" width="30.4" height="20.8" rx="14" ry="10.4"/><rect x="2480.3" y="509.4" width="30.4" height="20.8" rx="14" ry="10.4"/><rect x="2511.56" y="509.4" width="30.4" height="20.8" rx="14" ry="10.4"/><rect x="2542.82" y="509.4" width="30.4" height="20.8" rx="14" ry="10.4"/><rect x="2574.08" y="509.4" width="30.4" height="20.8" rx="14" ry="10.4"/><rect x="2605.34" y="509.4" width="30.4" height="20.8" rx="14" ry="10.4"/><rect x="2636.6" y="509.4" width="30.4" height="20.8" rx="14" ry="10.4"/><rect x="2667.86" y="509.4" width="30.4" height="20.8" rx="14" ry="10.4"/><rect x="2699.12" y="509.4" width="30.4" height="20.8" rx="14" ry="10.4"/><rect x="2730.38" y="509.4" width="30.4" height="20.8" rx="14" ry="10.4"/><rect x="2761.64" y="509.4" width="30.4" height="20.8" rx="14" ry="10.4"/><rect x="2792.9" y="509.4" width="30.4" height="20.8" rx="14" ry="10.4"/><rect x="2824.16" y="509.4" width="30.4" height="20.8" rx="14" ry="10.4"/><rect x="2855.42" y="509.4" width="30.4" height="20.8" rx="14" ry="10.4"/><rect x="2886.68" y="509.4" width="30.4" height="20.8" rx="14" ry="10.4"/><rect x="2917.94" y="509.4" width="30.4" height="20.8" rx="14" ry="10.4"/><rect x="2949.2" y="509.4" width="30.4" height="20.8" rx="14" ry="10.4"/><rect x="2980.46" y="509.4" width="30.4" height="20.8" rx="14" ry="10.4"/><rect x="3011.72" y="509.4" width="30.4" height="20.8" rx="14" ry="10.4"/><rect x="3042.98" y="509.4" width="30.4" height="20.8" rx="14" ry="10.4"/><rect x="3074.24" y="509.4" width="30.4" height="20.8" rx="14" ry="10.4"/><rect x="3105.5" y="509.4" width="30.4" height="20.8" rx="14" ry="10.4"/><rect x="1700.7" y="654.4" width="30.4" height="21.0" rx="14" ry="10.5"/><rect x="1731.97" y="654.4" width="30.4" height="21.0" rx="14" ry="10.5"/><rect x="1763.24" y="654.4" width="30.4" height="21.0" rx="14" ry="10.5"/><rect x="1794.51" y="654.4" width="30.4" height="21.0" rx="14" ry="10.5"/><rect x="1825.78" y="654.4" width="30.4" height="21.0" rx="14" ry="10.5"/><rect x="1857.05" y="654.4" width="30.4" height="21.0" rx="14" ry="10.5"/><rect x="1888.32" y="654.4" width="30.4" height="21.0" rx="14" ry="10.5"/><rect x="1919.59" y="654.4" width="30.4" height="21.0" rx="14" ry="10.5"/><rect x="1950.86" y="654.4" width="30.4" height="21.0" rx="14" ry="10.5"/><rect x="1982.13" y="654.4" width="30.4" height="21.0" rx="14" ry="10.5"/><rect x="2013.4" y="654.4" width="30.4" height="21.0" rx="14" ry="10.5"/><rect x="2044.67" y="654.4" width="30.4" height="21.0" rx="14" ry="10.5"/><rect x="2075.94" y="654.4" width="30.4" height="21.0" rx="14" ry="10.5"/><rect x="2107.21" y="654.4" width="30.4" height="21.0" rx="14" ry="10.5"/><rect x="2138.48" y="654.4" width="30.4" height="21.0" rx="14" ry="10.5"/><rect x="2169.75" y="654.4" width="30.4" height="21.0" rx="14" ry="10.5"/><rect x="2201.02" y="654.4" width="30.4" height="21.0" rx="14" ry="10.5"/><rect x="2482.45" y="654.4" width="30.4" height="21.0" rx="14" ry="10.5"/><rect x="2513.72" y="654.4" width="30.4" height="21.0" rx="14" ry="10.5"/><rect x="2544.99" y="654.4" width="30.4" height="21.0" rx="14" ry="10.5"/><rect x="2576.26" y="654.4" width="30.4" height="21.0" rx="14" ry="10.5"/><rect x="2607.53" y="654.4" width="30.4" height="21.0" rx="14" ry="10.5"/><rect x="2638.8" y="654.4" width="30.4" height="21.0" rx="14" ry="10.5"/><rect x="2670.07" y="654.4" width="30.4" height="21.0" rx="14" ry="10.5"/><rect x="2701.34" y="654.4" width="30.4" height="21.0" rx="14" ry="10.5"/><rect x="2732.61" y="654.4" width="30.4" height="21.0" rx="14" ry="10.5"/><rect x="2763.88" y="654.4" width="30.4" height="21.0" rx="14" ry="10.5"/><rect x="2795.15" y="654.4" width="30.4" height="21.0" rx="14" ry="10.5"/><rect x="2826.42" y="654.4" width="30.4" height="21.0" rx="14" ry="10.5"/><rect x="2857.69" y="654.4" width="30.4" height="21.0" rx="14" ry="10.5"/><rect x="2888.96" y="654.4" width="30.4" height="21.0" rx="14" ry="10.5"/><rect x="2920.23" y="654.4" width="30.4" height="21.0" rx="14" ry="10.5"/><rect x="2951.5" y="654.4" width="30.4" height="21.0" rx="14" ry="10.5"/><rect x="2982.77" y="654.4" width="30.4" height="21.0" rx="14" ry="10.5"/><rect x="3014.04" y="654.4" width="30.4" height="21.0" rx="14" ry="10.5"/><rect x="3045.31" y="654.4" width="30.4" height="21.0" rx="14" ry="10.5"/><rect x="3076.58" y="654.4" width="30.4" height="21.0" rx="14" ry="10.5"/><rect x="3107.85" y="654.4" width="30.4" height="21.0" rx="14" ry="10.5"/><rect x="1700.1" y="748.5" width="30.4" height="21.0" rx="14" ry="10.5"/><rect x="1731.4" y="748.5" width="30.4" height="21.0" rx="14" ry="10.5"/><rect x="1762.7" y="748.5" width="30.4" height="21.0" rx="14" ry="10.5"/><rect x="1794" y="748.5" width="30.4" height="21.0" rx="14" ry="10.5"/><rect x="1825.3" y="748.5" width="30.4" height="21.0" rx="14" ry="10.5"/><rect x="1856.6" y="748.5" width="30.4" height="21.0" rx="14" ry="10.5"/><rect x="1887.9" y="748.5" width="30.4" height="21.0" rx="14" ry="10.5"/><rect x="1919.2" y="748.5" width="30.4" height="21.0" rx="14" ry="10.5"/><rect x="1950.5" y="748.5" width="30.4" height="21.0" rx="14" ry="10.5"/><rect x="1981.8" y="748.5" width="30.4" height="21.0" rx="14" ry="10.5"/><rect x="2013.1" y="748.5" width="30.4" height="21.0" rx="14" ry="10.5"/><rect x="2044.4" y="748.5" width="30.4" height="21.0" rx="14" ry="10.5"/><rect x="2075.7" y="748.5" width="30.4" height="21.0" rx="14" ry="10.5"/><rect x="2107" y="748.5" width="30.4" height="21.0" rx="14" ry="10.5"/><rect x="2138.3" y="748.5" width="30.4" height="21.0" rx="14" ry="10.5"/><rect x="2169.6" y="748.5" width="30.4" height="21.0" rx="14" ry="10.5"/><rect x="2200.9" y="748.5" width="30.4" height="21.0" rx="14" ry="10.5"/><rect x="2482.6" y="748.5" width="30.4" height="21.0" rx="14" ry="10.5"/><rect x="2513.9" y="748.5" width="30.4" height="21.0" rx="14" ry="10.5"/><rect x="2545.2" y="748.5" width="30.4" height="21.0" rx="14" ry="10.5"/><rect x="2576.5" y="748.5" width="30.4" height="21.0" rx="14" ry="10.5"/><rect x="2607.8" y="748.5" width="30.4" height="21.0" rx="14" ry="10.5"/><rect x="2639.1" y="748.5" width="30.4" height="21.0" rx="14" ry="10.5"/><rect x="2670.4" y="748.5" width="30.4" height="21.0" rx="14" ry="10.5"/><rect x="2701.7" y="748.5" width="30.4" height="21.0" rx="14" ry="10.5"/><rect x="2733" y="748.5" width="30.4" height="21.0" rx="14" ry="10.5"/><rect x="2764.3" y="748.5" width="30.4" height="21.0" rx="14" ry="10.5"/><rect x="2795.6" y="748.5" width="30.4" height="21.0" rx="14" ry="10.5"/><rect x="2826.9" y="748.5" width="30.4" height="21.0" rx="14" ry="10.5"/><rect x="2858.2" y="748.5" width="30.4" height="21.0" rx="14" ry="10.5"/><rect x="2889.5" y="748.5" width="30.4" height="21.0" rx="14" ry="10.5"/><rect x="2920.8" y="748.5" width="30.4" height="21.0" rx="14" ry="10.5"/><rect x="2952.1" y="748.5" width="30.4" height="21.0" rx="14" ry="10.5"/><rect x="2983.4" y="748.5" width="30.4" height="21.0" rx="14" ry="10.5"/><rect x="3014.7" y="748.5" width="30.4" height="21.0" rx="14" ry="10.5"/><rect x="3046" y="748.5" width="30.4" height="21.0" rx="14" ry="10.5"/><rect x="3077.3" y="748.5" width="30.4" height="21.0" rx="14" ry="10.5"/><rect x="3108.6" y="748.5" width="30.4" height="21.0" rx="14" ry="10.5"/></g>
</g>
<g id="channel">
<clipPath id="cylclip"><path d="M2219.2,322.8C2219.48,321.05 2219.57,315.78 2220.9,312.3C2222.23,308.82 2223.7,305.38 2227.2,301.9C2230.7,298.42 2235.97,294.63 2241.9,291.4C2247.83,288.17 2255.83,284.85 2262.8,282.5C2269.77,280.15 2277.6,278.75 2283.7,277.3C2289.8,275.85 2293.35,274.5 2299.4,273.8C2305.45,273.1 2305.57,273.22 2320,273.1C2334.43,272.98 2371.57,272.98 2386,273.1C2400.43,273.22 2400.55,273.1 2406.6,273.8C2412.65,274.5 2416.2,275.85 2422.3,277.3C2428.4,278.75 2436.23,280.15 2443.2,282.5C2450.17,284.85 2458.17,288.17 2464.1,291.4C2470.03,294.63 2475.3,298.42 2478.8,301.9C2482.3,305.38 2483.77,308.82 2485.1,312.3C2486.43,315.78 2486.52,321.05 2486.8,322.8L2486.8,819.8C2486.52,821.02 2486.43,824.48 2485.1,827.1C2483.77,829.72 2482.3,832.37 2478.8,835.5C2475.3,838.63 2470.03,842.6 2464.1,845.9C2458.17,849.2 2450.17,852.68 2443.2,855.3C2436.23,857.92 2429.27,859.85 2422.3,861.6C2415.33,863.35 2410.12,864.57 2401.4,865.8C2392.68,867.03 2378.07,868.35 2370,869C2361.93,869.65 2358.67,869.7 2353,869.7C2347.33,869.7 2344.07,869.65 2336,869C2327.93,868.35 2313.32,867.03 2304.6,865.8C2295.88,864.57 2290.67,863.35 2283.7,861.6C2276.73,859.85 2269.77,857.92 2262.8,855.3C2255.83,852.68 2247.83,849.2 2241.9,845.9C2235.97,842.6 2230.7,838.63 2227.2,835.5C2223.7,832.37 2222.23,829.72 2220.9,827.1C2219.57,824.48 2219.48,821.02 2219.2,819.8Z" transform="translate(2353,571.3) scale(0.979,0.9855) translate(-2353,-571.3)"/></clipPath>
<path d="M2219.2,322.8C2219.48,321.05 2219.57,315.78 2220.9,312.3C2222.23,308.82 2223.7,305.38 2227.2,301.9C2230.7,298.42 2235.97,294.63 2241.9,291.4C2247.83,288.17 2255.83,284.85 2262.8,282.5C2269.77,280.15 2277.6,278.75 2283.7,277.3C2289.8,275.85 2293.35,274.5 2299.4,273.8C2305.45,273.1 2305.57,273.22 2320,273.1C2334.43,272.98 2371.57,272.98 2386,273.1C2400.43,273.22 2400.55,273.1 2406.6,273.8C2412.65,274.5 2416.2,275.85 2422.3,277.3C2428.4,278.75 2436.23,280.15 2443.2,282.5C2450.17,284.85 2458.17,288.17 2464.1,291.4C2470.03,294.63 2475.3,298.42 2478.8,301.9C2482.3,305.38 2483.77,308.82 2485.1,312.3C2486.43,315.78 2486.52,321.05 2486.8,322.8L2486.8,819.8C2486.52,821.02 2486.43,824.48 2485.1,827.1C2483.77,829.72 2482.3,832.37 2478.8,835.5C2475.3,838.63 2470.03,842.6 2464.1,845.9C2458.17,849.2 2450.17,852.68 2443.2,855.3C2436.23,857.92 2429.27,859.85 2422.3,861.6C2415.33,863.35 2410.12,864.57 2401.4,865.8C2392.68,867.03 2378.07,868.35 2370,869C2361.93,869.65 2358.67,869.7 2353,869.7C2347.33,869.7 2344.07,869.65 2336,869C2327.93,868.35 2313.32,867.03 2304.6,865.8C2295.88,864.57 2290.67,863.35 2283.7,861.6C2276.73,859.85 2269.77,857.92 2262.8,855.3C2255.83,852.68 2247.83,849.2 2241.9,845.9C2235.97,842.6 2230.7,838.63 2227.2,835.5C2223.7,832.37 2222.23,829.72 2220.9,827.1C2219.57,824.48 2219.48,821.02 2219.2,819.8Z" fill="#07819b"/>
<g clip-path="url(#cylclip)"><rect x="2200" y="260" width="310" height="620" fill="#3aa7b9"/><ellipse cx="2353" cy="316" rx="136" ry="53" fill="#78d7e7"/></g>
<ellipse cx="2355" cy="318.9" rx="102.8" ry="22.8" fill="#0c8fa6"/>
</g>
<g id="molecules-top">
<g transform="translate(2848.9,76.5) rotate(0)"><circle r="48.4" fill="#0a7dc0"/><circle cx="-3.2" cy="-6.5" r="42.4" fill="#0a9fd8"/><circle cx="-2.2" cy="-21.9" r="9.4" fill="#57b9e7"/><circle r="47.699999999999996" fill="none" stroke="#1c5ea9" stroke-width="3.4"/></g>
<g transform="translate(3024.6,68.3) rotate(0)"><circle r="48.4" fill="#51a4d6"/><circle cx="-3.2" cy="-6.5" r="42.4" fill="#4fbbe2"/><circle cx="-2.2" cy="-21.9" r="9.4" fill="#8fd2ee"/><circle r="47.699999999999996" fill="none" stroke="#5d90c6" stroke-width="3.4"/></g>
<g transform="translate(2935.4,201.3) rotate(-12)"><circle r="48.4" fill="#0a7dc0"/><circle cx="-3.2" cy="-6.5" r="42.4" fill="#0a9fd8"/><circle cx="-2.2" cy="-21.9" r="9.4" fill="#57b9e7"/><circle r="47.699999999999996" fill="none" stroke="#1c5ea9" stroke-width="3.4"/></g>
</g>
<g id="arrows" fill="none" stroke-linecap="butt">
<path d="M4139,95.6 H3160" stroke="#232323" stroke-width="6.4"/><path d="M3135.5,95.3 L3166.5,79.6 V111Z" fill="#232323"/>
<path d="M2800.2,43.5 C2477.4,-62.9 2400,180.9 2381.2,231.9" stroke="#232323" stroke-width="6.4"/>
<path d="M2371.8,257.8 L2366.6,224.8 L2395.8,233.8Z" fill="#232323"/>
<path d="M2153.6,1668.5 H1262" stroke="#232323" stroke-width="6.4"/><path d="M1238.3,1668.5 L1268.9,1653 V1684Z" fill="#232323"/>
<path d="M930,1682.5 C808.5,1800.7 708.3,1851.9 651.1,1853.5 C549.3,1856.4 466.5,1743.6 426.6,1530" stroke="#232323" stroke-width="6.4"/>
<path d="M421.3,1502.1 L411.9,1534.8 L441.7,1529.1Z" fill="#232323"/>
<path d="M1704.6,1158.7 V1102.5 H3557.7 V1158.7" stroke="#232323" stroke-width="12.6" stroke-linejoin="round"/>
<path d="M2353,1100 V915" stroke="#232323" stroke-width="9.4"/><path d="M2353,873.5 L2375.8,918.6 H2330.2Z" fill="#232323"/>
</g>
<g id="dna">
<rect x="178" y="1173.4" width="4006" height="11" fill="#262626"/><rect x="178" y="1188.8" width="4006" height="10.8" fill="#262626"/>
<rect x="862" y="1199" width="4" height="32" fill="#262626"/>
<rect x="1547.3" y="1199" width="4" height="32" fill="#262626"/>
<rect x="2231.8" y="1199" width="4" height="32" fill="#262626"/>
<rect x="2917" y="1199" width="4" height="32" fill="#262626"/>
<rect x="3602.6" y="1199" width="4" height="32" fill="#262626"/>
</g>
<g id="promoters">
<path d="M320.5,1271 V1065.1 Q320.5,1061.6 317.0,1061.6 H48.8" fill="none" stroke="#c43a31" stroke-width="8.7"/>
<path d="M8.8,1061.6 L55.0,1038.4 V1084.7Z" fill="#c43a31"/>
<path d="M1649,1271 V1065.1 Q1649,1061.6 1645.5,1061.6 H1378" fill="none" stroke="#c43a31" stroke-width="8.7"/>
<path d="M1338,1061.6 L1384.2,1038.4 V1084.7Z" fill="#c43a31"/>
<path d="M3982.5,1271 V1065.1 Q3982.5,1061.6 3979.0,1061.6 H3711.4" fill="none" stroke="#c43a31" stroke-width="8.7"/>
<path d="M3671.4,1061.6 L3717.6,1038.4 V1084.7Z" fill="#c43a31"/>
</g>
<g id="genes">
<path d="M445,1305.2 L506.5,1252.1 V1272 H1664.4 V1342.6 H506.5 V1358.9Z" fill="#339966" stroke="#33473d" stroke-width="2.6" stroke-linejoin="miter" stroke-miterlimit="2"/>
<path d="M1678,1305.2 L1739.6,1252.1 V1272 H3563.6 V1342.6 H1739.6 V1358.9Z" fill="#339966" stroke="#33473d" stroke-width="2.6" stroke-linejoin="miter" stroke-miterlimit="2"/>
<path d="M3735.5,1305.2 L3797.5,1252.1 V1272 H4183 V1342.6 H3797.5 V1358.9Z" fill="#339966" stroke="#33473d" stroke-width="2.6" stroke-linejoin="miter" stroke-miterlimit="2"/>
<rect x="180" y="1271.8" width="209.5" height="70" fill="#00ffff" stroke="#46777a" stroke-width="2.6"/>
</g>
<g id="tf">
<g transform="translate(301,1340.8)"><clipPath id="tfc301"><path d="M17,0 H223 C235,0 242,9 240,21 C231,66 178,123 120,123 C62,123 9,66 0,21 C-2,9 5,0 17,0Z"/></clipPath><path d="M17,0 H223 C235,0 242,9 240,21 C231,66 178,123 120,123 C62,123 9,66 0,21 C-2,9 5,0 17,0Z" fill="#c67b0e"/><path d="M17,-14 H223 C235,-14 232,-3 230,9 C221,54 168,106 110,106 C52,106 6,56 -10,21 C-20,-3 5,-14 17,-14Z" fill="#cd8615" clip-path="url(#tfc301)"/><path d="M17,0 H223 C235,0 242,9 240,21 C231,66 178,123 120,123 C62,123 9,66 0,21 C-2,9 5,0 17,0Z" fill="none" stroke="#8c4d0c" stroke-width="1.8"/></g>
<g transform="translate(421.7,1449.3) rotate(-12)"><circle r="48.4" fill="#0a7dc0"/><circle cx="-3.2" cy="-6.5" r="42.4" fill="#0a9fd8"/><circle cx="-2.2" cy="-21.9" r="9.4" fill="#57b9e7"/><circle r="47.699999999999996" fill="none" stroke="#1c5ea9" stroke-width="3.4"/></g>
<g transform="translate(937.2,1620.3)"><clipPath id="tfc937"><path d="M17,0 H223 C235,0 242,9 240,21 C231,66 178,123 120,123 C62,123 9,66 0,21 C-2,9 5,0 17,0Z"/></clipPath><path d="M17,0 H223 C235,0 242,9 240,21 C231,66 178,123 120,123 C62,123 9,66 0,21 C-2,9 5,0 17,0Z" fill="#c67b0e"/><path d="M17,-14 H223 C235,-14 232,-3 230,9 C221,54 168,106 110,106 C52,106 6,56 -10,21 C-20,-3 5,-14 17,-14Z" fill="#cd8615" clip-path="url(#tfc937)"/><path d="M17,0 H223 C235,0 242,9 240,21 C231,66 178,123 120,123 C62,123 9,66 0,21 C-2,9 5,0 17,0Z" fill="none" stroke="#8c4d0c" stroke-width="1.8"/></g>
</g>
<g id="molecules-bottom">
<g transform="translate(2269.4,1629.5) rotate(0)"><circle r="48.4" fill="#0a7dc0"/><circle cx="-3.2" cy="-6.5" r="42.4" fill="#0a9fd8"/><circle cx="-2.2" cy="-21.9" r="9.4" fill="#57b9e7"/><circle r="47.699999999999996" fill="none" stroke="#1c5ea9" stroke-width="3.4"/></g>
<g transform="translate(2445.2,1621.4) rotate(0)"><circle r="48.4" fill="#51a4d6"/><circle cx="-3.2" cy="-6.5" r="42.4" fill="#4fbbe2"/><circle cx="-2.2" cy="-21.9" r="9.4" fill="#8fd2ee"/><circle r="47.699999999999996" fill="none" stroke="#5d90c6" stroke-width="3.4"/></g>
<g transform="translate(2355.7,1754.3) rotate(-12)"><circle r="48.4" fill="#0a7dc0"/><circle cx="-3.2" cy="-6.5" r="42.4" fill="#0a9fd8"/><circle cx="-2.2" cy="-21.9" r="9.4" fill="#57b9e7"/><circle r="47.699999999999996" fill="none" stroke="#1c5ea9" stroke-width="3.4"/></g>
</g>
<g id="labels">
<text transform="translate(3557.18,83.28) scale(1.4658,1)" font-size="83.66" fill="#000" style='font-family:"IPAGothic","Liberation Sans",sans-serif'>1</text>
<text transform="translate(2369.75,121.4) scale(1.0304,1)" font-size="86.29" fill="#000" style='font-family:"Liberation Sans",sans-serif'>2</text>
<text transform="translate(1659.71,1632.67) scale(0.9934,1)" font-size="82.68" fill="#000" style='font-family:"Liberation Sans",sans-serif'>3</text>
<text transform="translate(549.78,1783.28) scale(0.9815,1)" font-size="87.5" fill="#000" style='font-family:"Liberation Sans",sans-serif'>4</text>
<text transform="translate(2232.81,1530.0) scale(0.9164,1)" font-size="86.96" fill="#000" style='font-family:"Liberation Sans",sans-serif'>4-HPA</text>
<text transform="translate(921.27,1597.35) scale(0.9183,1)" font-size="84.79" fill="#000" style='font-family:"Liberation Sans",sans-serif'>PBC TF</text>
<text transform="translate(245.3,1324.3) scale(0.8156,1)" font-size="50.39" fill="#0a1a1a" style='font-family:"DejaVu Sans Condensed","DejaVu Sans","Liberation Sans",sans-serif'>PBC</text>
<text transform="translate(1022.88,1323.63) scale(0.7199,1)" font-size="54.12" fill="#dcf3e3" style='font-family:"DejaVu Sans Condensed","DejaVu Sans","Liberation Sans",sans-serif'>hpaA</text>
<text transform="translate(2590.08,1323.63) scale(0.7206,1)" font-size="54.12" fill="#dcf3e3" style='font-family:"DejaVu Sans Condensed","DejaVu Sans","Liberation Sans",sans-serif'>hpaX</text>
<text transform="translate(3931.98,1323.63) scale(0.632,1)" font-size="54.12" fill="#dcf3e3" style='font-family:"DejaVu Sans Mono","Liberation Mono",monospace'>hpaI</text>
<text transform="translate(798.97,1242.55) scale(0.7386,1)" font-size="45.13" fill="#222" style='font-family:"DejaVu Sans Condensed","DejaVu Sans","Liberation Sans",sans-serif'>500</text>
<text transform="translate(1464.71,1242.55) scale(0.7282,1)" font-size="45.13" fill="#222" style='font-family:"DejaVu Sans Condensed","DejaVu Sans","Liberation Sans",sans-serif'>1000</text>
<text transform="translate(2148.69,1242.55) scale(0.7344,1)" font-size="45.13" fill="#222" style='font-family:"DejaVu Sans Condensed","DejaVu Sans","Liberation Sans",sans-serif'>1500</text>
<text transform="translate(2834.11,1242.55) scale(0.7263,1)" font-size="45.13" fill="#222" style='font-family:"DejaVu Sans Condensed","DejaVu Sans","Liberation Sans",sans-serif'>2000</text>
<text transform="translate(3519.67,1242.55) scale(0.7386,1)" font-size="45.13" fill="#222" style='font-family:"DejaVu Sans Condensed","DejaVu Sans","Liberation Sans",sans-serif'>2500</text>
</g>
</svg>
</body></html>
